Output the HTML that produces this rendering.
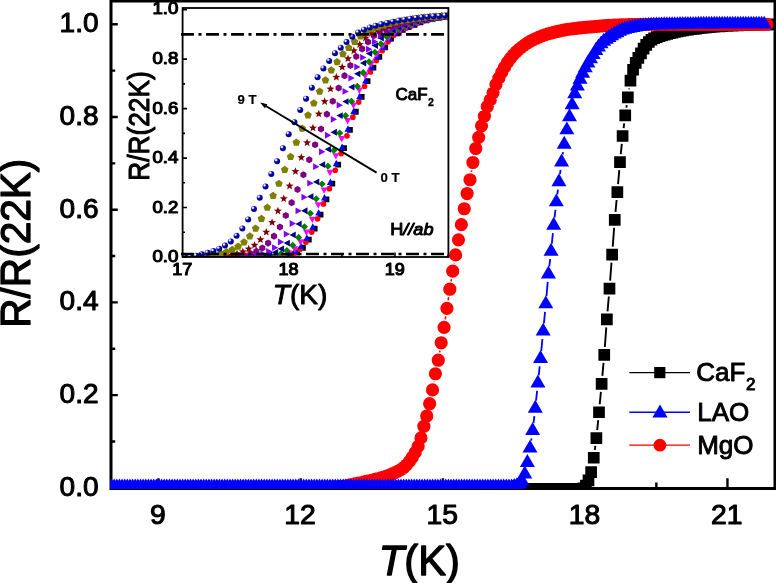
<!DOCTYPE html>
<html><head><meta charset="utf-8"><title>R/R(22K) vs T</title>
<style>html,body{margin:0;padding:0;background:#fff;}body{width:776px;height:583px;overflow:hidden;}svg{display:block;font-family:"Liberation Sans",sans-serif;will-change:transform;}text{fill:#000;stroke:#000;stroke-linejoin:round;}</style></head><body>
<svg width="776" height="583" viewBox="0 0 776 583">
<defs>
<clipPath id="cm"><rect x="110" y="0" width="667" height="488.9"/></clipPath>
<clipPath id="ci"><rect x="182.6" y="8.0" width="265.8" height="248.2"/></clipPath>
<radialGradient id="sph" cx="0.33" cy="0.30" r="0.7"><stop offset="0" stop-color="#ffffff"/><stop offset="0.14" stop-color="#f0f0ff"/><stop offset="0.42" stop-color="#0808b0"/><stop offset="1" stop-color="#000098"/></radialGradient>
</defs>
<rect width="776" height="583" fill="#fff"/>
<g stroke="#000" stroke-width="3" fill="none">
<path d="M111 0V490M109.5 488.4H776M775 0V490M109.5 1H776"/>
</g>
<path d="M111 487.8H117.8M111 441.45H115.2M111 395.1H117.8M111 348.75H115.2M111 302.4H117.8M111 256.05H115.2M111 209.7H117.8M111 163.35H115.2M111 117H117.8M111 70.65H115.2M111 24.3H117.8M158.42 488V478.3M229.55 488V482.6M300.68 488V478.3M371.81 488V482.6M442.94 488V478.3M514.07 488V482.6M585.2 488V478.3M656.33 488V482.6M727.46 488V478.3" stroke="#000" stroke-width="2.4" fill="none"/>
<g clip-path="url(#cm)">
<path d="M594.82 449.8L595.32 445.99M597.19 430.11L598.2 420.19M599.74 404.27L600.89 391.81M602.35 375.88L603.52 362.94M604.84 347L606.28 327.39M607.55 311.44L608.82 296.53M610.11 280.58L611.5 262.58M612.72 246.63L614.14 227.79M615.49 211.85L616.61 200.01M618.06 184.07L619.29 170.05M620.78 154.12L621.8 143.96M623.62 128.06L624.21 123.39M626.37 107.53L626.71 105.21M629.09 89.39L629.23 88.52" stroke="#000" stroke-width="1.9" fill="none"/>
<path d="M105.4 483.11h11.7v11.7h-11.7ZM108.02 483.11h11.7v11.7h-11.7ZM110.65 483.11h11.7v11.7h-11.7ZM113.27 483.11h11.7v11.7h-11.7ZM115.89 483.11h11.7v11.7h-11.7ZM118.51 483.11h11.7v11.7h-11.7ZM121.14 483.11h11.7v11.7h-11.7ZM123.76 483.11h11.7v11.7h-11.7ZM126.38 483.11h11.7v11.7h-11.7ZM129 483.11h11.7v11.7h-11.7ZM131.62 483.11h11.7v11.7h-11.7ZM134.25 483.11h11.7v11.7h-11.7ZM136.87 483.11h11.7v11.7h-11.7ZM139.49 483.11h11.7v11.7h-11.7ZM142.11 483.11h11.7v11.7h-11.7ZM144.74 483.11h11.7v11.7h-11.7ZM147.36 483.11h11.7v11.7h-11.7ZM149.98 483.11h11.7v11.7h-11.7ZM152.6 483.11h11.7v11.7h-11.7ZM155.23 483.11h11.7v11.7h-11.7ZM157.85 483.11h11.7v11.7h-11.7ZM160.47 483.11h11.7v11.7h-11.7ZM163.09 483.11h11.7v11.7h-11.7ZM165.71 483.11h11.7v11.7h-11.7ZM168.34 483.11h11.7v11.7h-11.7ZM170.96 483.11h11.7v11.7h-11.7ZM173.58 483.11h11.7v11.7h-11.7ZM176.2 483.11h11.7v11.7h-11.7ZM178.83 483.11h11.7v11.7h-11.7ZM181.45 483.11h11.7v11.7h-11.7ZM184.07 483.11h11.7v11.7h-11.7ZM186.69 483.11h11.7v11.7h-11.7ZM189.32 483.11h11.7v11.7h-11.7ZM191.94 483.11h11.7v11.7h-11.7ZM194.56 483.11h11.7v11.7h-11.7ZM197.18 483.11h11.7v11.7h-11.7ZM199.81 483.11h11.7v11.7h-11.7ZM202.43 483.11h11.7v11.7h-11.7ZM205.05 483.11h11.7v11.7h-11.7ZM207.67 483.11h11.7v11.7h-11.7ZM210.29 483.11h11.7v11.7h-11.7ZM212.92 483.11h11.7v11.7h-11.7ZM215.54 483.11h11.7v11.7h-11.7ZM218.16 483.11h11.7v11.7h-11.7ZM220.78 483.11h11.7v11.7h-11.7ZM223.41 483.11h11.7v11.7h-11.7ZM226.03 483.11h11.7v11.7h-11.7ZM228.65 483.11h11.7v11.7h-11.7ZM231.27 483.11h11.7v11.7h-11.7ZM233.9 483.11h11.7v11.7h-11.7ZM236.52 483.11h11.7v11.7h-11.7ZM239.14 483.11h11.7v11.7h-11.7ZM241.76 483.11h11.7v11.7h-11.7ZM244.38 483.11h11.7v11.7h-11.7ZM247.01 483.11h11.7v11.7h-11.7ZM249.63 483.11h11.7v11.7h-11.7ZM252.25 483.11h11.7v11.7h-11.7ZM254.87 483.11h11.7v11.7h-11.7ZM257.5 483.11h11.7v11.7h-11.7ZM260.12 483.11h11.7v11.7h-11.7ZM262.74 483.11h11.7v11.7h-11.7ZM265.36 483.11h11.7v11.7h-11.7ZM267.99 483.11h11.7v11.7h-11.7ZM270.61 483.11h11.7v11.7h-11.7ZM273.23 483.11h11.7v11.7h-11.7ZM275.85 483.11h11.7v11.7h-11.7ZM278.47 483.11h11.7v11.7h-11.7ZM281.1 483.11h11.7v11.7h-11.7ZM283.72 483.11h11.7v11.7h-11.7ZM286.34 483.11h11.7v11.7h-11.7ZM288.96 483.11h11.7v11.7h-11.7ZM291.59 483.11h11.7v11.7h-11.7ZM294.21 483.11h11.7v11.7h-11.7ZM296.83 483.11h11.7v11.7h-11.7ZM299.45 483.11h11.7v11.7h-11.7ZM302.08 483.11h11.7v11.7h-11.7ZM304.7 483.11h11.7v11.7h-11.7ZM307.32 483.11h11.7v11.7h-11.7ZM309.94 483.11h11.7v11.7h-11.7ZM312.57 483.11h11.7v11.7h-11.7ZM315.19 483.11h11.7v11.7h-11.7ZM317.81 483.11h11.7v11.7h-11.7ZM320.43 483.11h11.7v11.7h-11.7ZM323.05 483.11h11.7v11.7h-11.7ZM325.68 483.11h11.7v11.7h-11.7ZM328.3 483.11h11.7v11.7h-11.7ZM330.92 483.11h11.7v11.7h-11.7ZM333.54 483.11h11.7v11.7h-11.7ZM336.17 483.11h11.7v11.7h-11.7ZM338.79 483.11h11.7v11.7h-11.7ZM341.41 483.11h11.7v11.7h-11.7ZM344.03 483.11h11.7v11.7h-11.7ZM346.66 483.11h11.7v11.7h-11.7ZM349.28 483.11h11.7v11.7h-11.7ZM351.9 483.11h11.7v11.7h-11.7ZM354.52 483.11h11.7v11.7h-11.7ZM357.14 483.11h11.7v11.7h-11.7ZM359.77 483.11h11.7v11.7h-11.7ZM362.39 483.11h11.7v11.7h-11.7ZM365.01 483.11h11.7v11.7h-11.7ZM367.63 483.11h11.7v11.7h-11.7ZM370.26 483.11h11.7v11.7h-11.7ZM372.88 483.11h11.7v11.7h-11.7ZM375.5 483.11h11.7v11.7h-11.7ZM378.12 483.11h11.7v11.7h-11.7ZM380.75 483.11h11.7v11.7h-11.7ZM383.37 483.11h11.7v11.7h-11.7ZM385.99 483.11h11.7v11.7h-11.7ZM388.61 483.11h11.7v11.7h-11.7ZM391.23 483.11h11.7v11.7h-11.7ZM393.86 483.11h11.7v11.7h-11.7ZM396.48 483.11h11.7v11.7h-11.7ZM399.1 483.11h11.7v11.7h-11.7ZM401.72 483.11h11.7v11.7h-11.7ZM404.35 483.11h11.7v11.7h-11.7ZM406.97 483.11h11.7v11.7h-11.7ZM409.59 483.11h11.7v11.7h-11.7ZM412.21 483.11h11.7v11.7h-11.7ZM414.84 483.11h11.7v11.7h-11.7ZM417.46 483.11h11.7v11.7h-11.7ZM420.08 483.11h11.7v11.7h-11.7ZM422.7 483.11h11.7v11.7h-11.7ZM425.33 483.11h11.7v11.7h-11.7ZM427.95 483.11h11.7v11.7h-11.7ZM430.57 483.11h11.7v11.7h-11.7ZM433.19 483.11h11.7v11.7h-11.7ZM435.81 483.11h11.7v11.7h-11.7ZM438.44 483.11h11.7v11.7h-11.7ZM441.06 483.11h11.7v11.7h-11.7ZM443.68 483.11h11.7v11.7h-11.7ZM446.3 483.11h11.7v11.7h-11.7ZM448.93 483.11h11.7v11.7h-11.7ZM451.55 483.11h11.7v11.7h-11.7ZM454.17 483.11h11.7v11.7h-11.7ZM456.79 483.11h11.7v11.7h-11.7ZM459.42 483.11h11.7v11.7h-11.7ZM462.04 483.11h11.7v11.7h-11.7ZM464.66 483.11h11.7v11.7h-11.7ZM467.28 483.11h11.7v11.7h-11.7ZM469.9 483.11h11.7v11.7h-11.7ZM472.53 483.11h11.7v11.7h-11.7ZM475.15 483.11h11.7v11.7h-11.7ZM477.77 483.11h11.7v11.7h-11.7ZM480.39 483.11h11.7v11.7h-11.7ZM483.02 483.11h11.7v11.7h-11.7ZM485.64 483.11h11.7v11.7h-11.7ZM488.26 483.11h11.7v11.7h-11.7ZM490.88 483.11h11.7v11.7h-11.7ZM493.51 483.11h11.7v11.7h-11.7ZM496.13 483.11h11.7v11.7h-11.7ZM498.75 483.11h11.7v11.7h-11.7ZM501.37 483.11h11.7v11.7h-11.7ZM503.99 483.11h11.7v11.7h-11.7ZM506.62 483.11h11.7v11.7h-11.7ZM509.24 483.11h11.7v11.7h-11.7ZM511.86 483.11h11.7v11.7h-11.7ZM514.48 483.11h11.7v11.7h-11.7ZM517.11 483.11h11.7v11.7h-11.7ZM519.73 483.11h11.7v11.7h-11.7ZM522.35 483.11h11.7v11.7h-11.7ZM524.97 483.11h11.7v11.7h-11.7ZM527.6 483.11h11.7v11.7h-11.7ZM530.22 483.11h11.7v11.7h-11.7ZM532.84 483.11h11.7v11.7h-11.7ZM535.46 483.11h11.7v11.7h-11.7ZM538.09 483.11h11.7v11.7h-11.7ZM540.71 483.11h11.7v11.7h-11.7ZM543.33 483.11h11.7v11.7h-11.7ZM545.95 483.11h11.7v11.7h-11.7ZM548.57 483.11h11.7v11.7h-11.7ZM551.2 483.11h11.7v11.7h-11.7ZM553.82 483.11h11.7v11.7h-11.7ZM556.44 483.11h11.7v11.7h-11.7ZM559.06 483.11h11.7v11.7h-11.7ZM561.69 483.11h11.7v11.7h-11.7ZM564.31 483.11h11.7v11.7h-11.7ZM566.93 483.11h11.7v11.7h-11.7ZM569.55 483.11h11.7v11.7h-11.7ZM572.18 483.11h11.7v11.7h-11.7ZM574.8 483.1h11.7v11.7h-11.7ZM577.42 482.43h11.7v11.7h-11.7ZM580.04 479.8h11.7v11.7h-11.7ZM582.66 474.43h11.7v11.7h-11.7ZM585.29 466.27h11.7v11.7h-11.7ZM587.91 451.88h11.7v11.7h-11.7ZM590.53 432.21h11.7v11.7h-11.7ZM593.15 406.38h11.7v11.7h-11.7ZM595.78 377.99h11.7v11.7h-11.7ZM598.4 349.12h11.7v11.7h-11.7ZM601.02 313.56h11.7v11.7h-11.7ZM603.64 282.71h11.7v11.7h-11.7ZM606.27 248.76h11.7v11.7h-11.7ZM608.89 213.96h11.7v11.7h-11.7ZM611.51 186.19h11.7v11.7h-11.7ZM614.13 156.23h11.7v11.7h-11.7ZM616.75 130.15h11.7v11.7h-11.7ZM619.38 109.6h11.7v11.7h-11.7ZM622 91.45h11.7v11.7h-11.7ZM624.62 74.77h11.7v11.7h-11.7ZM627.24 63.92h11.7v11.7h-11.7ZM629.87 57.09h11.7v11.7h-11.7ZM632.49 51.94h11.7v11.7h-11.7ZM635.11 47.46h11.7v11.7h-11.7ZM637.73 42.72h11.7v11.7h-11.7ZM640.36 38.95h11.7v11.7h-11.7ZM642.98 36.14h11.7v11.7h-11.7ZM645.6 33.92h11.7v11.7h-11.7ZM648.22 32.4h11.7v11.7h-11.7ZM650.85 31.28h11.7v11.7h-11.7ZM653.47 30.37h11.7v11.7h-11.7ZM656.09 29.53h11.7v11.7h-11.7ZM658.71 28.77h11.7v11.7h-11.7ZM661.33 28.08h11.7v11.7h-11.7ZM663.96 27.42h11.7v11.7h-11.7ZM666.58 26.75h11.7v11.7h-11.7ZM669.2 26.11h11.7v11.7h-11.7ZM671.82 25.51h11.7v11.7h-11.7ZM674.45 24.97h11.7v11.7h-11.7ZM677.07 24.5h11.7v11.7h-11.7ZM679.69 24.08h11.7v11.7h-11.7ZM682.31 23.69h11.7v11.7h-11.7ZM684.94 23.33h11.7v11.7h-11.7ZM687.56 23h11.7v11.7h-11.7ZM690.18 22.7h11.7v11.7h-11.7ZM692.8 22.42h11.7v11.7h-11.7ZM695.42 22.16h11.7v11.7h-11.7ZM698.05 21.91h11.7v11.7h-11.7ZM700.67 21.66h11.7v11.7h-11.7ZM703.29 21.39h11.7v11.7h-11.7ZM705.91 21.12h11.7v11.7h-11.7ZM708.54 20.86h11.7v11.7h-11.7ZM711.16 20.63h11.7v11.7h-11.7ZM713.78 20.43h11.7v11.7h-11.7ZM716.4 20.25h11.7v11.7h-11.7ZM719.03 20.08h11.7v11.7h-11.7ZM721.65 19.93h11.7v11.7h-11.7ZM724.27 19.81h11.7v11.7h-11.7ZM726.89 19.7h11.7v11.7h-11.7ZM729.51 19.6h11.7v11.7h-11.7ZM732.14 19.5h11.7v11.7h-11.7ZM734.76 19.42h11.7v11.7h-11.7ZM737.38 19.33h11.7v11.7h-11.7ZM740 19.26h11.7v11.7h-11.7ZM742.63 19.18h11.7v11.7h-11.7ZM745.25 19.11h11.7v11.7h-11.7ZM747.87 19.04h11.7v11.7h-11.7ZM750.49 18.98h11.7v11.7h-11.7ZM753.12 18.91h11.7v11.7h-11.7ZM755.74 18.84h11.7v11.7h-11.7ZM758.36 18.78h11.7v11.7h-11.7ZM760.98 18.72h11.7v11.7h-11.7ZM763.61 18.66h11.7v11.7h-11.7ZM766.23 18.6h11.7v11.7h-11.7ZM768.85 18.55h11.7v11.7h-11.7Z" fill="#000"/>
<path d="M433.93 382.05L434.01 381.61M439.6 352.32L439.87 350.68M445.26 319.4L445.74 316.28M448.13 300.46L448.63 297.12M451.09 281.31L451.45 279.05M454.11 263.27L454.19 262.82M471.33 171.87L471.57 170.41" stroke="#f00" stroke-width="1.6" fill="none"/>
<path d="M105.9 487.8a6.6 6.6 0 1 0 13.2 0a6.6 6.6 0 1 0 -13.2 0ZM108.78 487.8a6.6 6.6 0 1 0 13.2 0a6.6 6.6 0 1 0 -13.2 0ZM111.66 487.8a6.6 6.6 0 1 0 13.2 0a6.6 6.6 0 1 0 -13.2 0ZM114.55 487.8a6.6 6.6 0 1 0 13.2 0a6.6 6.6 0 1 0 -13.2 0ZM117.43 487.8a6.6 6.6 0 1 0 13.2 0a6.6 6.6 0 1 0 -13.2 0ZM120.31 487.8a6.6 6.6 0 1 0 13.2 0a6.6 6.6 0 1 0 -13.2 0ZM123.2 487.8a6.6 6.6 0 1 0 13.2 0a6.6 6.6 0 1 0 -13.2 0ZM126.08 487.8a6.6 6.6 0 1 0 13.2 0a6.6 6.6 0 1 0 -13.2 0ZM128.96 487.8a6.6 6.6 0 1 0 13.2 0a6.6 6.6 0 1 0 -13.2 0ZM131.85 487.8a6.6 6.6 0 1 0 13.2 0a6.6 6.6 0 1 0 -13.2 0ZM134.73 487.8a6.6 6.6 0 1 0 13.2 0a6.6 6.6 0 1 0 -13.2 0ZM137.61 487.8a6.6 6.6 0 1 0 13.2 0a6.6 6.6 0 1 0 -13.2 0ZM140.5 487.8a6.6 6.6 0 1 0 13.2 0a6.6 6.6 0 1 0 -13.2 0ZM143.38 487.8a6.6 6.6 0 1 0 13.2 0a6.6 6.6 0 1 0 -13.2 0ZM146.26 487.8a6.6 6.6 0 1 0 13.2 0a6.6 6.6 0 1 0 -13.2 0ZM149.15 487.8a6.6 6.6 0 1 0 13.2 0a6.6 6.6 0 1 0 -13.2 0ZM152.03 487.8a6.6 6.6 0 1 0 13.2 0a6.6 6.6 0 1 0 -13.2 0ZM154.91 487.8a6.6 6.6 0 1 0 13.2 0a6.6 6.6 0 1 0 -13.2 0ZM157.79 487.8a6.6 6.6 0 1 0 13.2 0a6.6 6.6 0 1 0 -13.2 0ZM160.68 487.8a6.6 6.6 0 1 0 13.2 0a6.6 6.6 0 1 0 -13.2 0ZM163.56 487.8a6.6 6.6 0 1 0 13.2 0a6.6 6.6 0 1 0 -13.2 0ZM166.44 487.8a6.6 6.6 0 1 0 13.2 0a6.6 6.6 0 1 0 -13.2 0ZM169.33 487.8a6.6 6.6 0 1 0 13.2 0a6.6 6.6 0 1 0 -13.2 0ZM172.21 487.8a6.6 6.6 0 1 0 13.2 0a6.6 6.6 0 1 0 -13.2 0ZM175.09 487.8a6.6 6.6 0 1 0 13.2 0a6.6 6.6 0 1 0 -13.2 0ZM177.98 487.8a6.6 6.6 0 1 0 13.2 0a6.6 6.6 0 1 0 -13.2 0ZM180.86 487.8a6.6 6.6 0 1 0 13.2 0a6.6 6.6 0 1 0 -13.2 0ZM183.74 487.8a6.6 6.6 0 1 0 13.2 0a6.6 6.6 0 1 0 -13.2 0ZM186.63 487.8a6.6 6.6 0 1 0 13.2 0a6.6 6.6 0 1 0 -13.2 0ZM189.51 487.8a6.6 6.6 0 1 0 13.2 0a6.6 6.6 0 1 0 -13.2 0ZM192.39 487.8a6.6 6.6 0 1 0 13.2 0a6.6 6.6 0 1 0 -13.2 0ZM195.28 487.8a6.6 6.6 0 1 0 13.2 0a6.6 6.6 0 1 0 -13.2 0ZM198.16 487.8a6.6 6.6 0 1 0 13.2 0a6.6 6.6 0 1 0 -13.2 0ZM201.04 487.8a6.6 6.6 0 1 0 13.2 0a6.6 6.6 0 1 0 -13.2 0ZM203.93 487.8a6.6 6.6 0 1 0 13.2 0a6.6 6.6 0 1 0 -13.2 0ZM206.81 487.8a6.6 6.6 0 1 0 13.2 0a6.6 6.6 0 1 0 -13.2 0ZM209.69 487.8a6.6 6.6 0 1 0 13.2 0a6.6 6.6 0 1 0 -13.2 0ZM212.57 487.8a6.6 6.6 0 1 0 13.2 0a6.6 6.6 0 1 0 -13.2 0ZM215.46 487.8a6.6 6.6 0 1 0 13.2 0a6.6 6.6 0 1 0 -13.2 0ZM218.34 487.8a6.6 6.6 0 1 0 13.2 0a6.6 6.6 0 1 0 -13.2 0ZM221.22 487.8a6.6 6.6 0 1 0 13.2 0a6.6 6.6 0 1 0 -13.2 0ZM224.11 487.8a6.6 6.6 0 1 0 13.2 0a6.6 6.6 0 1 0 -13.2 0ZM226.99 487.8a6.6 6.6 0 1 0 13.2 0a6.6 6.6 0 1 0 -13.2 0ZM229.87 487.8a6.6 6.6 0 1 0 13.2 0a6.6 6.6 0 1 0 -13.2 0ZM232.76 487.8a6.6 6.6 0 1 0 13.2 0a6.6 6.6 0 1 0 -13.2 0ZM235.64 487.8a6.6 6.6 0 1 0 13.2 0a6.6 6.6 0 1 0 -13.2 0ZM238.52 487.8a6.6 6.6 0 1 0 13.2 0a6.6 6.6 0 1 0 -13.2 0ZM241.41 487.8a6.6 6.6 0 1 0 13.2 0a6.6 6.6 0 1 0 -13.2 0ZM244.29 487.8a6.6 6.6 0 1 0 13.2 0a6.6 6.6 0 1 0 -13.2 0ZM247.17 487.8a6.6 6.6 0 1 0 13.2 0a6.6 6.6 0 1 0 -13.2 0ZM250.06 487.8a6.6 6.6 0 1 0 13.2 0a6.6 6.6 0 1 0 -13.2 0ZM252.94 487.8a6.6 6.6 0 1 0 13.2 0a6.6 6.6 0 1 0 -13.2 0ZM255.82 487.8a6.6 6.6 0 1 0 13.2 0a6.6 6.6 0 1 0 -13.2 0ZM258.7 487.8a6.6 6.6 0 1 0 13.2 0a6.6 6.6 0 1 0 -13.2 0ZM261.59 487.8a6.6 6.6 0 1 0 13.2 0a6.6 6.6 0 1 0 -13.2 0ZM264.47 487.8a6.6 6.6 0 1 0 13.2 0a6.6 6.6 0 1 0 -13.2 0ZM267.35 487.8a6.6 6.6 0 1 0 13.2 0a6.6 6.6 0 1 0 -13.2 0ZM270.24 487.8a6.6 6.6 0 1 0 13.2 0a6.6 6.6 0 1 0 -13.2 0ZM273.12 487.8a6.6 6.6 0 1 0 13.2 0a6.6 6.6 0 1 0 -13.2 0ZM276 487.8a6.6 6.6 0 1 0 13.2 0a6.6 6.6 0 1 0 -13.2 0ZM278.89 487.8a6.6 6.6 0 1 0 13.2 0a6.6 6.6 0 1 0 -13.2 0ZM281.77 487.8a6.6 6.6 0 1 0 13.2 0a6.6 6.6 0 1 0 -13.2 0ZM284.65 487.8a6.6 6.6 0 1 0 13.2 0a6.6 6.6 0 1 0 -13.2 0ZM287.54 487.8a6.6 6.6 0 1 0 13.2 0a6.6 6.6 0 1 0 -13.2 0ZM290.42 487.8a6.6 6.6 0 1 0 13.2 0a6.6 6.6 0 1 0 -13.2 0ZM293.3 487.8a6.6 6.6 0 1 0 13.2 0a6.6 6.6 0 1 0 -13.2 0ZM296.19 487.8a6.6 6.6 0 1 0 13.2 0a6.6 6.6 0 1 0 -13.2 0ZM299.07 487.8a6.6 6.6 0 1 0 13.2 0a6.6 6.6 0 1 0 -13.2 0ZM301.95 487.8a6.6 6.6 0 1 0 13.2 0a6.6 6.6 0 1 0 -13.2 0ZM304.83 487.8a6.6 6.6 0 1 0 13.2 0a6.6 6.6 0 1 0 -13.2 0ZM307.72 487.8a6.6 6.6 0 1 0 13.2 0a6.6 6.6 0 1 0 -13.2 0ZM310.6 487.8a6.6 6.6 0 1 0 13.2 0a6.6 6.6 0 1 0 -13.2 0ZM313.48 487.8a6.6 6.6 0 1 0 13.2 0a6.6 6.6 0 1 0 -13.2 0ZM316.37 487.8a6.6 6.6 0 1 0 13.2 0a6.6 6.6 0 1 0 -13.2 0ZM319.25 487.73a6.6 6.6 0 1 0 13.2 0a6.6 6.6 0 1 0 -13.2 0ZM322.13 487.61a6.6 6.6 0 1 0 13.2 0a6.6 6.6 0 1 0 -13.2 0ZM325.02 487.43a6.6 6.6 0 1 0 13.2 0a6.6 6.6 0 1 0 -13.2 0ZM327.9 487.22a6.6 6.6 0 1 0 13.2 0a6.6 6.6 0 1 0 -13.2 0ZM330.78 486.98a6.6 6.6 0 1 0 13.2 0a6.6 6.6 0 1 0 -13.2 0ZM333.67 486.7a6.6 6.6 0 1 0 13.2 0a6.6 6.6 0 1 0 -13.2 0ZM336.55 486.27a6.6 6.6 0 1 0 13.2 0a6.6 6.6 0 1 0 -13.2 0ZM339.43 485.73a6.6 6.6 0 1 0 13.2 0a6.6 6.6 0 1 0 -13.2 0ZM342.32 485.13a6.6 6.6 0 1 0 13.2 0a6.6 6.6 0 1 0 -13.2 0ZM345.2 484.53a6.6 6.6 0 1 0 13.2 0a6.6 6.6 0 1 0 -13.2 0ZM348.08 483.96a6.6 6.6 0 1 0 13.2 0a6.6 6.6 0 1 0 -13.2 0ZM350.97 483.36a6.6 6.6 0 1 0 13.2 0a6.6 6.6 0 1 0 -13.2 0ZM353.85 482.74a6.6 6.6 0 1 0 13.2 0a6.6 6.6 0 1 0 -13.2 0ZM356.73 482.1a6.6 6.6 0 1 0 13.2 0a6.6 6.6 0 1 0 -13.2 0ZM359.61 481.45a6.6 6.6 0 1 0 13.2 0a6.6 6.6 0 1 0 -13.2 0ZM362.5 480.79a6.6 6.6 0 1 0 13.2 0a6.6 6.6 0 1 0 -13.2 0ZM365.38 480.14a6.6 6.6 0 1 0 13.2 0a6.6 6.6 0 1 0 -13.2 0ZM368.26 479.46a6.6 6.6 0 1 0 13.2 0a6.6 6.6 0 1 0 -13.2 0ZM371.15 478.75a6.6 6.6 0 1 0 13.2 0a6.6 6.6 0 1 0 -13.2 0ZM374.03 477.96a6.6 6.6 0 1 0 13.2 0a6.6 6.6 0 1 0 -13.2 0ZM376.91 477.09a6.6 6.6 0 1 0 13.2 0a6.6 6.6 0 1 0 -13.2 0ZM379.8 476.12a6.6 6.6 0 1 0 13.2 0a6.6 6.6 0 1 0 -13.2 0ZM382.68 475.05a6.6 6.6 0 1 0 13.2 0a6.6 6.6 0 1 0 -13.2 0ZM385.56 473.88a6.6 6.6 0 1 0 13.2 0a6.6 6.6 0 1 0 -13.2 0ZM388.45 472.6a6.6 6.6 0 1 0 13.2 0a6.6 6.6 0 1 0 -13.2 0ZM391.33 471.2a6.6 6.6 0 1 0 13.2 0a6.6 6.6 0 1 0 -13.2 0ZM394.21 469.56a6.6 6.6 0 1 0 13.2 0a6.6 6.6 0 1 0 -13.2 0ZM397.1 467.51a6.6 6.6 0 1 0 13.2 0a6.6 6.6 0 1 0 -13.2 0ZM399.98 464.73a6.6 6.6 0 1 0 13.2 0a6.6 6.6 0 1 0 -13.2 0ZM402.86 461.38a6.6 6.6 0 1 0 13.2 0a6.6 6.6 0 1 0 -13.2 0ZM405.74 457.28a6.6 6.6 0 1 0 13.2 0a6.6 6.6 0 1 0 -13.2 0ZM408.63 452.4a6.6 6.6 0 1 0 13.2 0a6.6 6.6 0 1 0 -13.2 0ZM411.51 446.38a6.6 6.6 0 1 0 13.2 0a6.6 6.6 0 1 0 -13.2 0ZM414.39 437.94a6.6 6.6 0 1 0 13.2 0a6.6 6.6 0 1 0 -13.2 0ZM417.28 426.25a6.6 6.6 0 1 0 13.2 0a6.6 6.6 0 1 0 -13.2 0ZM420.16 415.98a6.6 6.6 0 1 0 13.2 0a6.6 6.6 0 1 0 -13.2 0ZM423.04 403.71a6.6 6.6 0 1 0 13.2 0a6.6 6.6 0 1 0 -13.2 0ZM425.93 389.93a6.6 6.6 0 1 0 13.2 0a6.6 6.6 0 1 0 -13.2 0ZM428.81 373.73a6.6 6.6 0 1 0 13.2 0a6.6 6.6 0 1 0 -13.2 0ZM431.69 360.21a6.6 6.6 0 1 0 13.2 0a6.6 6.6 0 1 0 -13.2 0ZM434.58 342.78a6.6 6.6 0 1 0 13.2 0a6.6 6.6 0 1 0 -13.2 0ZM437.46 327.31a6.6 6.6 0 1 0 13.2 0a6.6 6.6 0 1 0 -13.2 0ZM440.34 308.37a6.6 6.6 0 1 0 13.2 0a6.6 6.6 0 1 0 -13.2 0ZM443.23 289.21a6.6 6.6 0 1 0 13.2 0a6.6 6.6 0 1 0 -13.2 0ZM446.11 271.15a6.6 6.6 0 1 0 13.2 0a6.6 6.6 0 1 0 -13.2 0ZM448.99 254.94a6.6 6.6 0 1 0 13.2 0a6.6 6.6 0 1 0 -13.2 0ZM451.87 239.81a6.6 6.6 0 1 0 13.2 0a6.6 6.6 0 1 0 -13.2 0ZM454.76 224.7a6.6 6.6 0 1 0 13.2 0a6.6 6.6 0 1 0 -13.2 0ZM457.64 208.76a6.6 6.6 0 1 0 13.2 0a6.6 6.6 0 1 0 -13.2 0ZM460.52 193.54a6.6 6.6 0 1 0 13.2 0a6.6 6.6 0 1 0 -13.2 0ZM463.41 179.76a6.6 6.6 0 1 0 13.2 0a6.6 6.6 0 1 0 -13.2 0ZM466.29 162.52a6.6 6.6 0 1 0 13.2 0a6.6 6.6 0 1 0 -13.2 0ZM469.17 148.49a6.6 6.6 0 1 0 13.2 0a6.6 6.6 0 1 0 -13.2 0ZM472.06 137.33a6.6 6.6 0 1 0 13.2 0a6.6 6.6 0 1 0 -13.2 0ZM474.94 125.82a6.6 6.6 0 1 0 13.2 0a6.6 6.6 0 1 0 -13.2 0ZM477.82 116.09a6.6 6.6 0 1 0 13.2 0a6.6 6.6 0 1 0 -13.2 0ZM480.71 106.52a6.6 6.6 0 1 0 13.2 0a6.6 6.6 0 1 0 -13.2 0ZM483.59 99.89a6.6 6.6 0 1 0 13.2 0a6.6 6.6 0 1 0 -13.2 0ZM486.47 92.8a6.6 6.6 0 1 0 13.2 0a6.6 6.6 0 1 0 -13.2 0ZM489.36 84.52a6.6 6.6 0 1 0 13.2 0a6.6 6.6 0 1 0 -13.2 0ZM492.24 78.14a6.6 6.6 0 1 0 13.2 0a6.6 6.6 0 1 0 -13.2 0ZM495.12 72.39a6.6 6.6 0 1 0 13.2 0a6.6 6.6 0 1 0 -13.2 0ZM498 67.16a6.6 6.6 0 1 0 13.2 0a6.6 6.6 0 1 0 -13.2 0ZM500.89 62.42a6.6 6.6 0 1 0 13.2 0a6.6 6.6 0 1 0 -13.2 0ZM503.77 58.37a6.6 6.6 0 1 0 13.2 0a6.6 6.6 0 1 0 -13.2 0ZM506.65 54.85a6.6 6.6 0 1 0 13.2 0a6.6 6.6 0 1 0 -13.2 0ZM509.54 51.92a6.6 6.6 0 1 0 13.2 0a6.6 6.6 0 1 0 -13.2 0ZM512.42 49.39a6.6 6.6 0 1 0 13.2 0a6.6 6.6 0 1 0 -13.2 0ZM515.3 47.08a6.6 6.6 0 1 0 13.2 0a6.6 6.6 0 1 0 -13.2 0ZM518.19 44.88a6.6 6.6 0 1 0 13.2 0a6.6 6.6 0 1 0 -13.2 0ZM521.07 42.88a6.6 6.6 0 1 0 13.2 0a6.6 6.6 0 1 0 -13.2 0ZM523.95 41.17a6.6 6.6 0 1 0 13.2 0a6.6 6.6 0 1 0 -13.2 0ZM526.84 39.66a6.6 6.6 0 1 0 13.2 0a6.6 6.6 0 1 0 -13.2 0ZM529.72 38.29a6.6 6.6 0 1 0 13.2 0a6.6 6.6 0 1 0 -13.2 0ZM532.6 37.04a6.6 6.6 0 1 0 13.2 0a6.6 6.6 0 1 0 -13.2 0ZM535.49 35.86a6.6 6.6 0 1 0 13.2 0a6.6 6.6 0 1 0 -13.2 0ZM538.37 34.79a6.6 6.6 0 1 0 13.2 0a6.6 6.6 0 1 0 -13.2 0ZM541.25 33.85a6.6 6.6 0 1 0 13.2 0a6.6 6.6 0 1 0 -13.2 0ZM544.14 33.04a6.6 6.6 0 1 0 13.2 0a6.6 6.6 0 1 0 -13.2 0ZM547.02 32.31a6.6 6.6 0 1 0 13.2 0a6.6 6.6 0 1 0 -13.2 0ZM549.9 31.65a6.6 6.6 0 1 0 13.2 0a6.6 6.6 0 1 0 -13.2 0ZM552.78 31.03a6.6 6.6 0 1 0 13.2 0a6.6 6.6 0 1 0 -13.2 0ZM555.67 30.45a6.6 6.6 0 1 0 13.2 0a6.6 6.6 0 1 0 -13.2 0ZM558.55 29.91a6.6 6.6 0 1 0 13.2 0a6.6 6.6 0 1 0 -13.2 0ZM561.43 29.43a6.6 6.6 0 1 0 13.2 0a6.6 6.6 0 1 0 -13.2 0ZM564.32 29.02a6.6 6.6 0 1 0 13.2 0a6.6 6.6 0 1 0 -13.2 0ZM567.2 28.64a6.6 6.6 0 1 0 13.2 0a6.6 6.6 0 1 0 -13.2 0ZM570.08 28.29a6.6 6.6 0 1 0 13.2 0a6.6 6.6 0 1 0 -13.2 0ZM572.97 27.97a6.6 6.6 0 1 0 13.2 0a6.6 6.6 0 1 0 -13.2 0ZM575.85 27.66a6.6 6.6 0 1 0 13.2 0a6.6 6.6 0 1 0 -13.2 0ZM578.73 27.38a6.6 6.6 0 1 0 13.2 0a6.6 6.6 0 1 0 -13.2 0ZM581.62 27.11a6.6 6.6 0 1 0 13.2 0a6.6 6.6 0 1 0 -13.2 0ZM584.5 26.85a6.6 6.6 0 1 0 13.2 0a6.6 6.6 0 1 0 -13.2 0ZM587.38 26.61a6.6 6.6 0 1 0 13.2 0a6.6 6.6 0 1 0 -13.2 0ZM590.27 26.37a6.6 6.6 0 1 0 13.2 0a6.6 6.6 0 1 0 -13.2 0ZM593.15 26.13a6.6 6.6 0 1 0 13.2 0a6.6 6.6 0 1 0 -13.2 0ZM596.03 25.9a6.6 6.6 0 1 0 13.2 0a6.6 6.6 0 1 0 -13.2 0ZM598.91 25.68a6.6 6.6 0 1 0 13.2 0a6.6 6.6 0 1 0 -13.2 0ZM601.8 25.47a6.6 6.6 0 1 0 13.2 0a6.6 6.6 0 1 0 -13.2 0ZM604.68 25.29a6.6 6.6 0 1 0 13.2 0a6.6 6.6 0 1 0 -13.2 0ZM607.56 25.14a6.6 6.6 0 1 0 13.2 0a6.6 6.6 0 1 0 -13.2 0ZM610.45 25.02a6.6 6.6 0 1 0 13.2 0a6.6 6.6 0 1 0 -13.2 0ZM613.33 24.94a6.6 6.6 0 1 0 13.2 0a6.6 6.6 0 1 0 -13.2 0ZM616.21 24.85a6.6 6.6 0 1 0 13.2 0a6.6 6.6 0 1 0 -13.2 0ZM619.1 24.77a6.6 6.6 0 1 0 13.2 0a6.6 6.6 0 1 0 -13.2 0ZM621.98 24.7a6.6 6.6 0 1 0 13.2 0a6.6 6.6 0 1 0 -13.2 0ZM624.86 24.63a6.6 6.6 0 1 0 13.2 0a6.6 6.6 0 1 0 -13.2 0ZM627.75 24.56a6.6 6.6 0 1 0 13.2 0a6.6 6.6 0 1 0 -13.2 0ZM630.63 24.5a6.6 6.6 0 1 0 13.2 0a6.6 6.6 0 1 0 -13.2 0ZM633.51 24.45a6.6 6.6 0 1 0 13.2 0a6.6 6.6 0 1 0 -13.2 0ZM636.4 24.4a6.6 6.6 0 1 0 13.2 0a6.6 6.6 0 1 0 -13.2 0ZM639.28 24.36a6.6 6.6 0 1 0 13.2 0a6.6 6.6 0 1 0 -13.2 0ZM642.16 24.33a6.6 6.6 0 1 0 13.2 0a6.6 6.6 0 1 0 -13.2 0ZM645.04 24.31a6.6 6.6 0 1 0 13.2 0a6.6 6.6 0 1 0 -13.2 0ZM647.93 24.3a6.6 6.6 0 1 0 13.2 0a6.6 6.6 0 1 0 -13.2 0ZM650.81 24.3a6.6 6.6 0 1 0 13.2 0a6.6 6.6 0 1 0 -13.2 0ZM653.69 24.3a6.6 6.6 0 1 0 13.2 0a6.6 6.6 0 1 0 -13.2 0ZM656.58 24.3a6.6 6.6 0 1 0 13.2 0a6.6 6.6 0 1 0 -13.2 0ZM659.46 24.3a6.6 6.6 0 1 0 13.2 0a6.6 6.6 0 1 0 -13.2 0ZM662.34 24.3a6.6 6.6 0 1 0 13.2 0a6.6 6.6 0 1 0 -13.2 0ZM665.23 24.3a6.6 6.6 0 1 0 13.2 0a6.6 6.6 0 1 0 -13.2 0ZM668.11 24.3a6.6 6.6 0 1 0 13.2 0a6.6 6.6 0 1 0 -13.2 0ZM670.99 24.3a6.6 6.6 0 1 0 13.2 0a6.6 6.6 0 1 0 -13.2 0ZM673.88 24.3a6.6 6.6 0 1 0 13.2 0a6.6 6.6 0 1 0 -13.2 0ZM676.76 24.3a6.6 6.6 0 1 0 13.2 0a6.6 6.6 0 1 0 -13.2 0ZM679.64 24.3a6.6 6.6 0 1 0 13.2 0a6.6 6.6 0 1 0 -13.2 0ZM682.53 24.3a6.6 6.6 0 1 0 13.2 0a6.6 6.6 0 1 0 -13.2 0ZM685.41 24.3a6.6 6.6 0 1 0 13.2 0a6.6 6.6 0 1 0 -13.2 0ZM688.29 24.3a6.6 6.6 0 1 0 13.2 0a6.6 6.6 0 1 0 -13.2 0ZM691.18 24.3a6.6 6.6 0 1 0 13.2 0a6.6 6.6 0 1 0 -13.2 0ZM694.06 24.3a6.6 6.6 0 1 0 13.2 0a6.6 6.6 0 1 0 -13.2 0ZM696.94 24.3a6.6 6.6 0 1 0 13.2 0a6.6 6.6 0 1 0 -13.2 0ZM699.82 24.3a6.6 6.6 0 1 0 13.2 0a6.6 6.6 0 1 0 -13.2 0ZM702.71 24.3a6.6 6.6 0 1 0 13.2 0a6.6 6.6 0 1 0 -13.2 0ZM705.59 24.3a6.6 6.6 0 1 0 13.2 0a6.6 6.6 0 1 0 -13.2 0ZM708.47 24.3a6.6 6.6 0 1 0 13.2 0a6.6 6.6 0 1 0 -13.2 0ZM711.36 24.3a6.6 6.6 0 1 0 13.2 0a6.6 6.6 0 1 0 -13.2 0ZM714.24 24.3a6.6 6.6 0 1 0 13.2 0a6.6 6.6 0 1 0 -13.2 0ZM717.12 24.3a6.6 6.6 0 1 0 13.2 0a6.6 6.6 0 1 0 -13.2 0ZM720.01 24.3a6.6 6.6 0 1 0 13.2 0a6.6 6.6 0 1 0 -13.2 0ZM722.89 24.3a6.6 6.6 0 1 0 13.2 0a6.6 6.6 0 1 0 -13.2 0ZM725.77 24.3a6.6 6.6 0 1 0 13.2 0a6.6 6.6 0 1 0 -13.2 0ZM728.66 24.3a6.6 6.6 0 1 0 13.2 0a6.6 6.6 0 1 0 -13.2 0ZM731.54 24.3a6.6 6.6 0 1 0 13.2 0a6.6 6.6 0 1 0 -13.2 0ZM734.42 24.3a6.6 6.6 0 1 0 13.2 0a6.6 6.6 0 1 0 -13.2 0ZM737.31 24.3a6.6 6.6 0 1 0 13.2 0a6.6 6.6 0 1 0 -13.2 0ZM740.19 24.3a6.6 6.6 0 1 0 13.2 0a6.6 6.6 0 1 0 -13.2 0ZM743.07 24.3a6.6 6.6 0 1 0 13.2 0a6.6 6.6 0 1 0 -13.2 0ZM745.95 24.3a6.6 6.6 0 1 0 13.2 0a6.6 6.6 0 1 0 -13.2 0ZM748.84 24.3a6.6 6.6 0 1 0 13.2 0a6.6 6.6 0 1 0 -13.2 0ZM751.72 24.3a6.6 6.6 0 1 0 13.2 0a6.6 6.6 0 1 0 -13.2 0ZM754.6 24.3a6.6 6.6 0 1 0 13.2 0a6.6 6.6 0 1 0 -13.2 0ZM757.49 24.3a6.6 6.6 0 1 0 13.2 0a6.6 6.6 0 1 0 -13.2 0ZM760.37 24.3a6.6 6.6 0 1 0 13.2 0a6.6 6.6 0 1 0 -13.2 0Z" fill="#f00"/>
<path d="M531.16 440.58L531.48 438.42M533.55 422.96L534.35 416.2M536.07 400.7L537.09 390.85M538.74 375.34L539.69 366.47M541.27 350.95L542.42 339M543.91 323.48L545.04 311.79M546.48 296.25L547.74 281.92M549.32 266.4L550.16 259.18M551.84 243.68L552.9 233.21M554.56 217.7L555.45 209.78M557.33 194.3L557.94 189.67M559.98 174.2L560.56 169.9M562.73 154.45L563.07 152.17" stroke="#00f" stroke-width="1.8" fill="none"/>
<path d="M111.55 478.5L119.05 491.4L104.05 491.4ZM114.18 478.5L121.68 491.4L106.68 491.4ZM116.81 478.5L124.31 491.4L109.31 491.4ZM119.44 478.5L126.94 491.4L111.94 491.4ZM122.07 478.5L129.57 491.4L114.57 491.4ZM124.7 478.5L132.2 491.4L117.2 491.4ZM127.34 478.5L134.84 491.4L119.84 491.4ZM129.97 478.5L137.47 491.4L122.47 491.4ZM132.6 478.5L140.1 491.4L125.1 491.4ZM135.23 478.5L142.73 491.4L127.73 491.4ZM137.86 478.5L145.36 491.4L130.36 491.4ZM140.5 478.5L148 491.4L133 491.4ZM143.13 478.5L150.63 491.4L135.63 491.4ZM145.76 478.5L153.26 491.4L138.26 491.4ZM148.39 478.5L155.89 491.4L140.89 491.4ZM151.02 478.5L158.52 491.4L143.52 491.4ZM153.65 478.5L161.15 491.4L146.15 491.4ZM156.29 478.5L163.79 491.4L148.79 491.4ZM158.92 478.5L166.42 491.4L151.42 491.4ZM161.55 478.5L169.05 491.4L154.05 491.4ZM164.18 478.5L171.68 491.4L156.68 491.4ZM166.81 478.5L174.31 491.4L159.31 491.4ZM169.45 478.5L176.95 491.4L161.95 491.4ZM172.08 478.5L179.58 491.4L164.58 491.4ZM174.71 478.5L182.21 491.4L167.21 491.4ZM177.34 478.5L184.84 491.4L169.84 491.4ZM179.97 478.5L187.47 491.4L172.47 491.4ZM182.6 478.5L190.1 491.4L175.1 491.4ZM185.24 478.5L192.74 491.4L177.74 491.4ZM187.87 478.5L195.37 491.4L180.37 491.4ZM190.5 478.5L198 491.4L183 491.4ZM193.13 478.5L200.63 491.4L185.63 491.4ZM195.76 478.5L203.26 491.4L188.26 491.4ZM198.4 478.5L205.9 491.4L190.9 491.4ZM201.03 478.5L208.53 491.4L193.53 491.4ZM203.66 478.5L211.16 491.4L196.16 491.4ZM206.29 478.5L213.79 491.4L198.79 491.4ZM208.92 478.5L216.42 491.4L201.42 491.4ZM211.55 478.5L219.05 491.4L204.05 491.4ZM214.19 478.5L221.69 491.4L206.69 491.4ZM216.82 478.5L224.32 491.4L209.32 491.4ZM219.45 478.5L226.95 491.4L211.95 491.4ZM222.08 478.5L229.58 491.4L214.58 491.4ZM224.71 478.5L232.21 491.4L217.21 491.4ZM227.34 478.5L234.84 491.4L219.84 491.4ZM229.98 478.5L237.48 491.4L222.48 491.4ZM232.61 478.5L240.11 491.4L225.11 491.4ZM235.24 478.5L242.74 491.4L227.74 491.4ZM237.87 478.5L245.37 491.4L230.37 491.4ZM240.5 478.5L248 491.4L233 491.4ZM243.14 478.5L250.64 491.4L235.64 491.4ZM245.77 478.5L253.27 491.4L238.27 491.4ZM248.4 478.5L255.9 491.4L240.9 491.4ZM251.03 478.5L258.53 491.4L243.53 491.4ZM253.66 478.5L261.16 491.4L246.16 491.4ZM256.29 478.5L263.79 491.4L248.79 491.4ZM258.93 478.5L266.43 491.4L251.43 491.4ZM261.56 478.5L269.06 491.4L254.06 491.4ZM264.19 478.5L271.69 491.4L256.69 491.4ZM266.82 478.5L274.32 491.4L259.32 491.4ZM269.45 478.5L276.95 491.4L261.95 491.4ZM272.09 478.5L279.59 491.4L264.59 491.4ZM274.72 478.5L282.22 491.4L267.22 491.4ZM277.35 478.5L284.85 491.4L269.85 491.4ZM279.98 478.5L287.48 491.4L272.48 491.4ZM282.61 478.5L290.11 491.4L275.11 491.4ZM285.24 478.5L292.74 491.4L277.74 491.4ZM287.88 478.5L295.38 491.4L280.38 491.4ZM290.51 478.5L298.01 491.4L283.01 491.4ZM293.14 478.5L300.64 491.4L285.64 491.4ZM295.77 478.5L303.27 491.4L288.27 491.4ZM298.4 478.5L305.9 491.4L290.9 491.4ZM301.04 478.5L308.54 491.4L293.54 491.4ZM303.67 478.5L311.17 491.4L296.17 491.4ZM306.3 478.5L313.8 491.4L298.8 491.4ZM308.93 478.5L316.43 491.4L301.43 491.4ZM311.56 478.5L319.06 491.4L304.06 491.4ZM314.19 478.5L321.69 491.4L306.69 491.4ZM316.83 478.5L324.33 491.4L309.33 491.4ZM319.46 478.5L326.96 491.4L311.96 491.4ZM322.09 478.5L329.59 491.4L314.59 491.4ZM324.72 478.5L332.22 491.4L317.22 491.4ZM327.35 478.5L334.85 491.4L319.85 491.4ZM329.99 478.5L337.49 491.4L322.49 491.4ZM332.62 478.5L340.12 491.4L325.12 491.4ZM335.25 478.5L342.75 491.4L327.75 491.4ZM337.88 478.5L345.38 491.4L330.38 491.4ZM340.51 478.5L348.01 491.4L333.01 491.4ZM343.14 478.5L350.64 491.4L335.64 491.4ZM345.78 478.5L353.28 491.4L338.28 491.4ZM348.41 478.5L355.91 491.4L340.91 491.4ZM351.04 478.5L358.54 491.4L343.54 491.4ZM353.67 478.5L361.17 491.4L346.17 491.4ZM356.3 478.5L363.8 491.4L348.8 491.4ZM358.94 478.5L366.44 491.4L351.44 491.4ZM361.57 478.5L369.07 491.4L354.07 491.4ZM364.2 478.5L371.7 491.4L356.7 491.4ZM366.83 478.5L374.33 491.4L359.33 491.4ZM369.46 478.5L376.96 491.4L361.96 491.4ZM372.09 478.5L379.59 491.4L364.59 491.4ZM374.73 478.5L382.23 491.4L367.23 491.4ZM377.36 478.5L384.86 491.4L369.86 491.4ZM379.99 478.5L387.49 491.4L372.49 491.4ZM382.62 478.5L390.12 491.4L375.12 491.4ZM385.25 478.5L392.75 491.4L377.75 491.4ZM387.89 478.5L395.39 491.4L380.39 491.4ZM390.52 478.5L398.02 491.4L383.02 491.4ZM393.15 478.5L400.65 491.4L385.65 491.4ZM395.78 478.5L403.28 491.4L388.28 491.4ZM398.41 478.5L405.91 491.4L390.91 491.4ZM401.04 478.5L408.54 491.4L393.54 491.4ZM403.68 478.5L411.18 491.4L396.18 491.4ZM406.31 478.5L413.81 491.4L398.81 491.4ZM408.94 478.5L416.44 491.4L401.44 491.4ZM411.57 478.5L419.07 491.4L404.07 491.4ZM414.2 478.5L421.7 491.4L406.7 491.4ZM416.84 478.5L424.34 491.4L409.34 491.4ZM419.47 478.5L426.97 491.4L411.97 491.4ZM422.1 478.5L429.6 491.4L414.6 491.4ZM424.73 478.5L432.23 491.4L417.23 491.4ZM427.36 478.5L434.86 491.4L419.86 491.4ZM429.99 478.5L437.49 491.4L422.49 491.4ZM432.63 478.5L440.13 491.4L425.13 491.4ZM435.26 478.5L442.76 491.4L427.76 491.4ZM437.89 478.5L445.39 491.4L430.39 491.4ZM440.52 478.5L448.02 491.4L433.02 491.4ZM443.15 478.5L450.65 491.4L435.65 491.4ZM445.79 478.5L453.29 491.4L438.29 491.4ZM448.42 478.5L455.92 491.4L440.92 491.4ZM451.05 478.5L458.55 491.4L443.55 491.4ZM453.68 478.5L461.18 491.4L446.18 491.4ZM456.31 478.5L463.81 491.4L448.81 491.4ZM458.94 478.5L466.44 491.4L451.44 491.4ZM461.58 478.5L469.08 491.4L454.08 491.4ZM464.21 478.5L471.71 491.4L456.71 491.4ZM466.84 478.5L474.34 491.4L459.34 491.4ZM469.47 478.5L476.97 491.4L461.97 491.4ZM472.1 478.5L479.6 491.4L464.6 491.4ZM474.74 478.5L482.24 491.4L467.24 491.4ZM477.37 478.5L484.87 491.4L469.87 491.4ZM480 478.5L487.5 491.4L472.5 491.4ZM482.63 478.5L490.13 491.4L475.13 491.4ZM485.26 478.5L492.76 491.4L477.76 491.4ZM487.89 478.5L495.39 491.4L480.39 491.4ZM490.53 478.5L498.03 491.4L483.03 491.4ZM493.16 478.5L500.66 491.4L485.66 491.4ZM495.79 478.5L503.29 491.4L488.29 491.4ZM498.42 478.5L505.92 491.4L490.92 491.4ZM501.05 478.5L508.55 491.4L493.55 491.4ZM503.69 478.5L511.19 491.4L496.19 491.4ZM506.32 478.5L513.82 491.4L498.82 491.4ZM508.95 478.5L516.45 491.4L501.45 491.4ZM511.58 478.5L519.08 491.4L504.08 491.4ZM514.21 478.09L521.71 490.99L506.71 490.99ZM516.84 477.2L524.34 490.1L509.34 490.1ZM519.48 475.71L526.98 488.61L511.98 488.61ZM522.11 472.75L529.61 485.65L514.61 485.65ZM524.74 465.6L532.24 478.5L517.24 478.5ZM527.37 454.07L534.87 466.97L519.87 466.97ZM530 439.69L537.5 452.59L522.5 452.59ZM532.63 422.1L540.13 435L525.13 435ZM535.27 399.85L542.77 412.75L527.77 412.75ZM537.9 374.49L545.4 387.39L530.4 387.39ZM540.53 350.12L548.03 363.02L533.03 363.02ZM543.16 322.64L550.66 335.54L535.66 335.54ZM545.79 295.42L553.29 308.32L538.29 308.32ZM548.43 265.55L555.93 278.45L540.93 278.45ZM551.06 242.84L558.56 255.74L543.56 255.74ZM553.69 216.85L561.19 229.75L546.19 229.75ZM556.32 193.43L563.82 206.33L548.82 206.33ZM558.95 173.33L566.45 186.23L551.45 186.23ZM561.58 153.57L569.08 166.47L554.08 166.47ZM564.22 135.86L571.72 148.76L556.72 148.76ZM566.85 121.44L574.35 134.34L559.35 134.34ZM569.48 108.26L576.98 121.16L561.98 121.16ZM572.11 96.24L579.61 109.14L564.61 109.14ZM574.74 85.31L582.24 98.21L567.24 98.21ZM577.38 77.63L584.88 90.53L569.88 90.53ZM580.01 70.76L587.51 83.66L572.51 83.66ZM582.64 64.77L590.14 77.67L575.14 77.67ZM585.27 59.41L592.77 72.31L577.77 72.31ZM587.9 54.53L595.4 67.43L580.4 67.43ZM590.53 50.41L598.03 63.31L583.03 63.31ZM593.17 46.16L600.67 59.06L585.67 59.06ZM595.8 42L603.3 54.9L588.3 54.9ZM598.43 38.49L605.93 51.39L590.93 51.39ZM601.06 35.43L608.56 48.33L593.56 48.33ZM603.69 32.85L611.19 45.75L596.19 45.75ZM606.33 30.77L613.83 43.67L598.83 43.67ZM608.96 28.99L616.46 41.89L601.46 41.89ZM611.59 27.29L619.09 40.19L604.09 40.19ZM614.22 25.69L621.72 38.59L606.72 38.59ZM616.85 24.23L624.35 37.13L609.35 37.13ZM619.48 22.81L626.98 35.71L611.98 35.71ZM622.12 21.59L629.62 34.49L614.62 34.49ZM624.75 20.77L632.25 33.67L617.25 33.67ZM627.38 20.17L634.88 33.07L619.88 33.07ZM630.01 19.62L637.51 32.52L622.51 32.52ZM632.64 19.08L640.14 31.98L625.14 31.98ZM635.28 18.55L642.78 31.45L627.78 31.45ZM637.91 18.07L645.41 30.97L630.41 30.97ZM640.54 17.67L648.04 30.57L633.04 30.57ZM643.17 17.39L650.67 30.29L635.67 30.29ZM645.8 17.17L653.3 30.07L638.3 30.07ZM648.43 16.97L655.93 29.87L640.93 29.87ZM651.07 16.82L658.57 29.72L643.57 29.72ZM653.7 16.69L661.2 29.59L646.2 29.59ZM656.33 16.59L663.83 29.49L648.83 29.49ZM658.96 16.51L666.46 29.41L651.46 29.41ZM661.59 16.43L669.09 29.33L654.09 29.33ZM664.23 16.37L671.73 29.27L656.73 29.27ZM666.86 16.31L674.36 29.21L659.36 29.21ZM669.49 16.26L676.99 29.16L661.99 29.16ZM672.12 16.21L679.62 29.11L664.62 29.11ZM674.75 16.17L682.25 29.07L667.25 29.07ZM677.38 16.13L684.88 29.03L669.88 29.03ZM680.02 16.09L687.52 28.99L672.52 28.99ZM682.65 16.06L690.15 28.96L675.15 28.96ZM685.28 16.02L692.78 28.92L677.78 28.92ZM687.91 15.98L695.41 28.88L680.41 28.88ZM690.54 15.95L698.04 28.85L683.04 28.85ZM693.18 15.91L700.68 28.81L685.68 28.81ZM695.81 15.88L703.31 28.78L688.31 28.78ZM698.44 15.85L705.94 28.75L690.94 28.75ZM701.07 15.82L708.57 28.72L693.57 28.72ZM703.7 15.8L711.2 28.7L696.2 28.7ZM706.33 15.77L713.83 28.67L698.83 28.67ZM708.97 15.75L716.47 28.65L701.47 28.65ZM711.6 15.74L719.1 28.64L704.1 28.64ZM714.23 15.72L721.73 28.62L706.73 28.62ZM716.86 15.71L724.36 28.61L709.36 28.61ZM719.49 15.7L726.99 28.6L711.99 28.6ZM722.13 15.7L729.63 28.6L714.63 28.6ZM724.76 15.7L732.26 28.6L717.26 28.6ZM727.39 15.7L734.89 28.6L719.89 28.6ZM730.02 15.7L737.52 28.6L722.52 28.6ZM732.65 15.7L740.15 28.6L725.15 28.6ZM735.28 15.7L742.78 28.6L727.78 28.6ZM737.92 15.7L745.42 28.6L730.42 28.6ZM740.55 15.7L748.05 28.6L733.05 28.6ZM743.18 15.7L750.68 28.6L735.68 28.6ZM745.81 15.7L753.31 28.6L738.31 28.6ZM748.44 15.7L755.94 28.6L740.94 28.6ZM751.08 15.7L758.58 28.6L743.58 28.6ZM753.71 15.7L761.21 28.6L746.21 28.6ZM756.34 15.7L763.84 28.6L748.84 28.6ZM758.97 15.7L766.47 28.6L751.47 28.6ZM761.6 15.7L769.1 28.6L754.1 28.6ZM764.23 15.7L771.73 28.6L756.73 28.6Z" fill="#00f"/>
</g>
<g font-size="27.5" stroke-width="1.05" text-anchor="end">
<text transform="translate(98.6 495.7) scale(1.02 1)">0.0</text>
<text transform="translate(98.6 403) scale(1.02 1)">0.2</text>
<text transform="translate(98.6 310.3) scale(1.02 1)">0.4</text>
<text transform="translate(98.6 217.6) scale(1.02 1)">0.6</text>
<text transform="translate(98.6 124.9) scale(1.02 1)">0.8</text>
<text transform="translate(98.6 32.2) scale(1.02 1)">1.0</text>
</g>
<g font-size="27.5" stroke-width="1.05" text-anchor="middle">
<text transform="translate(157.82 523.8) scale(1.03 1)">9</text>
<text transform="translate(300.08 523.8) scale(1.03 1)">12</text>
<text transform="translate(442.34 523.8) scale(1.03 1)">15</text>
<text transform="translate(584.6 523.8) scale(1.03 1)">18</text>
<text transform="translate(726.86 523.8) scale(1.03 1)">21</text>
</g>
<text x="419.3" y="574.7" font-size="41.6" stroke-width="1.3" text-anchor="middle"><tspan font-style="italic">T</tspan>(K)</text>
<text transform="translate(30.2 243.2) rotate(-90) scale(1 1.06)" font-size="40.6" stroke-width="1.2" text-anchor="middle">R/R(22K)</text>
<g fill="none" stroke-width="1.4">
<path d="M629.3 372.6H690" stroke="#000"/>
<path d="M629.3 412.2H690" stroke="#00f"/>
<path d="M629.3 445.1H690" stroke="#f00"/>
</g>
<path d="M654.2 367h11.2v11.2h-11.2Z" fill="#000"/>
<path d="M660 404.53L667.6 417.53L652.4 417.53Z" fill="#00f"/>
<path d="M653.5 445.2a6.4 6.4 0 1 0 12.8 0a6.4 6.4 0 1 0 -12.8 0Z" fill="#f00"/>
<g font-size="26" stroke-width="0.9">
<text x="696.3" y="381">CaF<tspan font-size="17" dx="0.6" dy="9.4">2</tspan></text>
<text x="697.2" y="421.4">LAO</text>
<text x="697.2" y="453.5">MgO</text>
</g>
<rect x="182.6" y="8.0" width="265.8" height="249" fill="#fff"/>
<g clip-path="url(#ci)">
<path d="M170.84 254.1h5.8v5.8h-5.8ZM176.72 254.1h5.8v5.8h-5.8ZM182.59 254.1h5.8v5.8h-5.8ZM188.46 254.1h5.8v5.8h-5.8ZM194.33 254.1h5.8v5.8h-5.8ZM200.21 254.1h5.8v5.8h-5.8ZM206.08 254.1h5.8v5.8h-5.8ZM211.95 254.1h5.8v5.8h-5.8ZM217.83 254.1h5.8v5.8h-5.8ZM223.7 254.1h5.8v5.8h-5.8ZM229.57 254.1h5.8v5.8h-5.8ZM235.44 254.1h5.8v5.8h-5.8ZM241.32 254.1h5.8v5.8h-5.8ZM247.19 254.1h5.8v5.8h-5.8ZM253.06 254.1h5.8v5.8h-5.8ZM258.94 254.1h5.8v5.8h-5.8ZM264.81 254.1h5.8v5.8h-5.8ZM270.68 254.1h5.8v5.8h-5.8ZM276.55 254.1h5.8v5.8h-5.8ZM282.43 254.25h5.8v5.8h-5.8ZM288.3 252.64h5.8v5.8h-5.8ZM294.17 249.58h5.8v5.8h-5.8ZM300.05 244.84h5.8v5.8h-5.8ZM305.92 236.75h5.8v5.8h-5.8ZM311.79 225.8h5.8v5.8h-5.8ZM317.66 211.67h5.8v5.8h-5.8ZM323.54 196.41h5.8v5.8h-5.8ZM329.41 180.78h5.8v5.8h-5.8ZM335.28 161.74h5.8v5.8h-5.8ZM341.16 145.29h5.8v5.8h-5.8ZM347.03 126.98h5.8v5.8h-5.8ZM352.9 108.83h5.8v5.8h-5.8ZM358.77 94.03h5.8v5.8h-5.8ZM364.65 78.15h5.8v5.8h-5.8ZM370.52 64.68h5.8v5.8h-5.8ZM376.39 53.96h5.8v5.8h-5.8ZM382.27 44.41h5.8v5.8h-5.8ZM388.14 35.77h5.8v5.8h-5.8ZM394.01 30.44h5.8v5.8h-5.8ZM399.88 26.98h5.8v5.8h-5.8ZM405.76 24.32h5.8v5.8h-5.8ZM411.63 21.91h5.8v5.8h-5.8ZM417.5 19.41h5.8v5.8h-5.8ZM423.38 17.5h5.8v5.8h-5.8ZM429.25 16.04h5.8v5.8h-5.8ZM435.12 14.91h5.8v5.8h-5.8ZM440.99 14.15h5.8v5.8h-5.8ZM446.87 13.57h5.8v5.8h-5.8ZM452.74 13.1h5.8v5.8h-5.8Z" fill="#000"/>
<path d="M173.81 257a2.85 2.85 0 1 0 5.7 0a2.85 2.85 0 1 0 -5.7 0ZM179.69 257a2.85 2.85 0 1 0 5.7 0a2.85 2.85 0 1 0 -5.7 0ZM185.56 257a2.85 2.85 0 1 0 5.7 0a2.85 2.85 0 1 0 -5.7 0ZM191.43 257a2.85 2.85 0 1 0 5.7 0a2.85 2.85 0 1 0 -5.7 0ZM197.3 257a2.85 2.85 0 1 0 5.7 0a2.85 2.85 0 1 0 -5.7 0ZM203.18 257a2.85 2.85 0 1 0 5.7 0a2.85 2.85 0 1 0 -5.7 0ZM209.05 257a2.85 2.85 0 1 0 5.7 0a2.85 2.85 0 1 0 -5.7 0ZM214.92 257a2.85 2.85 0 1 0 5.7 0a2.85 2.85 0 1 0 -5.7 0ZM220.8 257a2.85 2.85 0 1 0 5.7 0a2.85 2.85 0 1 0 -5.7 0ZM226.67 257a2.85 2.85 0 1 0 5.7 0a2.85 2.85 0 1 0 -5.7 0ZM232.54 257a2.85 2.85 0 1 0 5.7 0a2.85 2.85 0 1 0 -5.7 0ZM238.41 257a2.85 2.85 0 1 0 5.7 0a2.85 2.85 0 1 0 -5.7 0ZM244.29 257a2.85 2.85 0 1 0 5.7 0a2.85 2.85 0 1 0 -5.7 0ZM250.16 257a2.85 2.85 0 1 0 5.7 0a2.85 2.85 0 1 0 -5.7 0ZM256.03 257a2.85 2.85 0 1 0 5.7 0a2.85 2.85 0 1 0 -5.7 0ZM261.91 257a2.85 2.85 0 1 0 5.7 0a2.85 2.85 0 1 0 -5.7 0ZM267.78 257a2.85 2.85 0 1 0 5.7 0a2.85 2.85 0 1 0 -5.7 0ZM273.65 257a2.85 2.85 0 1 0 5.7 0a2.85 2.85 0 1 0 -5.7 0ZM279.52 257.29a2.85 2.85 0 1 0 5.7 0a2.85 2.85 0 1 0 -5.7 0ZM285.4 255.98a2.85 2.85 0 1 0 5.7 0a2.85 2.85 0 1 0 -5.7 0ZM291.27 253.28a2.85 2.85 0 1 0 5.7 0a2.85 2.85 0 1 0 -5.7 0ZM297.14 249.23a2.85 2.85 0 1 0 5.7 0a2.85 2.85 0 1 0 -5.7 0ZM303.02 242.05a2.85 2.85 0 1 0 5.7 0a2.85 2.85 0 1 0 -5.7 0ZM308.89 232.07a2.85 2.85 0 1 0 5.7 0a2.85 2.85 0 1 0 -5.7 0ZM314.76 218.81a2.85 2.85 0 1 0 5.7 0a2.85 2.85 0 1 0 -5.7 0ZM320.63 203.89a2.85 2.85 0 1 0 5.7 0a2.85 2.85 0 1 0 -5.7 0ZM326.51 188.69a2.85 2.85 0 1 0 5.7 0a2.85 2.85 0 1 0 -5.7 0ZM332.38 170.26a2.85 2.85 0 1 0 5.7 0a2.85 2.85 0 1 0 -5.7 0ZM338.25 153.55a2.85 2.85 0 1 0 5.7 0a2.85 2.85 0 1 0 -5.7 0ZM344.13 135.84a2.85 2.85 0 1 0 5.7 0a2.85 2.85 0 1 0 -5.7 0ZM350 117.16a2.85 2.85 0 1 0 5.7 0a2.85 2.85 0 1 0 -5.7 0ZM355.87 102.05a2.85 2.85 0 1 0 5.7 0a2.85 2.85 0 1 0 -5.7 0ZM361.74 86.24a2.85 2.85 0 1 0 5.7 0a2.85 2.85 0 1 0 -5.7 0ZM367.62 71.88a2.85 2.85 0 1 0 5.7 0a2.85 2.85 0 1 0 -5.7 0ZM373.49 60.56a2.85 2.85 0 1 0 5.7 0a2.85 2.85 0 1 0 -5.7 0ZM379.36 50.71a2.85 2.85 0 1 0 5.7 0a2.85 2.85 0 1 0 -5.7 0ZM385.24 41.72a2.85 2.85 0 1 0 5.7 0a2.85 2.85 0 1 0 -5.7 0ZM391.11 35.07a2.85 2.85 0 1 0 5.7 0a2.85 2.85 0 1 0 -5.7 0ZM396.98 31.08a2.85 2.85 0 1 0 5.7 0a2.85 2.85 0 1 0 -5.7 0ZM402.85 28.17a2.85 2.85 0 1 0 5.7 0a2.85 2.85 0 1 0 -5.7 0ZM408.73 25.78a2.85 2.85 0 1 0 5.7 0a2.85 2.85 0 1 0 -5.7 0ZM414.6 23.3a2.85 2.85 0 1 0 5.7 0a2.85 2.85 0 1 0 -5.7 0ZM420.47 21.1a2.85 2.85 0 1 0 5.7 0a2.85 2.85 0 1 0 -5.7 0ZM426.35 19.53a2.85 2.85 0 1 0 5.7 0a2.85 2.85 0 1 0 -5.7 0ZM432.22 18.26a2.85 2.85 0 1 0 5.7 0a2.85 2.85 0 1 0 -5.7 0ZM438.09 17.35a2.85 2.85 0 1 0 5.7 0a2.85 2.85 0 1 0 -5.7 0ZM443.96 16.71a2.85 2.85 0 1 0 5.7 0a2.85 2.85 0 1 0 -5.7 0ZM449.84 16.2a2.85 2.85 0 1 0 5.7 0a2.85 2.85 0 1 0 -5.7 0ZM455.71 15.75a2.85 2.85 0 1 0 5.7 0a2.85 2.85 0 1 0 -5.7 0Z" fill="#f00"/>
<path d="M177.7 252.73L181.2 259.13L174.2 259.13ZM183.58 252.73L187.08 259.13L180.08 259.13ZM189.45 252.73L192.95 259.13L185.95 259.13ZM195.32 252.73L198.82 259.13L191.82 259.13ZM201.2 252.73L204.7 259.13L197.7 259.13ZM207.07 252.73L210.57 259.13L203.57 259.13ZM212.94 252.73L216.44 259.13L209.44 259.13ZM218.81 252.73L222.31 259.13L215.31 259.13ZM224.69 252.73L228.19 259.13L221.19 259.13ZM230.56 252.73L234.06 259.13L227.06 259.13ZM236.43 252.73L239.93 259.13L232.93 259.13ZM242.31 252.73L245.81 259.13L238.81 259.13ZM248.18 252.73L251.68 259.13L244.68 259.13ZM254.05 252.73L257.55 259.13L250.55 259.13ZM259.92 252.73L263.42 259.13L256.42 259.13ZM265.8 252.73L269.3 259.13L262.3 259.13ZM271.67 252.73L275.17 259.13L268.17 259.13ZM277.54 252.73L281.04 259.13L274.04 259.13ZM283.42 252.62L286.92 259.02L279.92 259.02ZM289.29 250.73L292.79 257.13L285.79 257.13ZM295.16 247.57L298.66 253.97L291.66 253.97ZM301.03 242.53L304.53 248.93L297.53 248.93ZM306.91 234.35L310.41 240.75L303.41 240.75ZM312.78 223.3L316.28 229.7L309.28 229.7ZM318.65 209.21L322.15 215.61L315.15 215.61ZM324.53 194.1L328.03 200.5L321.03 200.5ZM330.4 178.53L333.9 184.93L326.9 184.93ZM336.27 159.79L339.77 166.19L332.77 166.19ZM342.14 143.48L345.64 149.88L338.64 149.88ZM348.02 125.33L351.52 131.73L344.52 131.73ZM353.89 107.48L357.39 113.88L350.39 113.88ZM359.76 92.83L363.26 99.23L356.26 99.23ZM365.64 77.17L369.14 83.57L362.14 83.57ZM371.51 63.79L375.01 70.19L368.01 70.19ZM377.38 53.14L380.88 59.54L373.88 59.54ZM383.25 43.7L386.75 50.1L379.75 50.1ZM389.13 35.05L392.63 41.45L385.63 41.45ZM395 29.48L398.5 35.88L391.5 35.88ZM400.87 25.92L404.37 32.32L397.37 32.32ZM406.75 23.21L410.25 29.61L403.25 29.61ZM412.62 20.85L416.12 27.25L409.12 27.25ZM418.49 18.39L421.99 24.79L414.99 24.79ZM424.36 16.41L427.86 22.81L420.86 22.81ZM430.24 14.93L433.74 21.33L426.74 21.33ZM436.11 13.75L439.61 20.15L432.61 20.15ZM441.98 12.92L445.48 19.32L438.48 19.32ZM447.86 12.32L451.36 18.72L444.36 18.72ZM453.73 11.83L457.23 18.23L450.23 18.23Z" fill="#00f"/>
<path d="M365.21 75.2L371.08 63.51L376.96 53.58L382.83 44.81L388.7 37.14L394.58 32.44L400.45 29.26L406.32 26.75L412.19 24.44L418.07 22.14L423.94 20.38L429.81 18.99L435.69 17.88L441.56 17.11L447.43 16.53L453.3 16.05" stroke="#f0f" stroke-width="1.1" fill="none"/>
<path d="M177.28 261.27L180.78 254.87L173.78 254.87ZM183.15 261.27L186.65 254.87L179.65 254.87ZM189.03 261.27L192.53 254.87L185.53 254.87ZM194.9 261.27L198.4 254.87L191.4 254.87ZM200.77 261.27L204.27 254.87L197.27 254.87ZM206.64 261.27L210.14 254.87L203.14 254.87ZM212.52 261.27L216.02 254.87L209.02 254.87ZM218.39 261.27L221.89 254.87L214.89 254.87ZM224.26 261.27L227.76 254.87L220.76 254.87ZM230.14 261.27L233.64 254.87L226.64 254.87ZM236.01 261.27L239.51 254.87L232.51 254.87ZM241.88 261.27L245.38 254.87L238.38 254.87ZM247.75 261.27L251.25 254.87L244.25 254.87ZM253.63 261.27L257.13 254.87L250.13 254.87ZM259.5 261.27L263 254.87L256 254.87ZM265.37 261.27L268.87 254.87L261.87 254.87ZM271.25 261.27L274.75 254.87L267.75 254.87ZM277.12 261.26L280.62 254.86L273.62 254.86ZM282.99 259.61L286.49 253.21L279.49 253.21ZM288.86 256.79L292.36 250.39L285.36 250.39ZM294.74 252.65L298.24 246.25L291.24 246.25ZM300.61 245.63L304.11 239.23L297.11 239.23ZM306.48 235.94L309.98 229.54L302.98 229.54ZM312.36 223.1L315.86 216.7L308.86 216.7ZM318.23 208.62L321.73 202.22L314.73 202.22ZM324.1 193.81L327.6 187.41L320.6 187.41ZM329.97 176.21L333.47 169.81L326.47 169.81ZM335.85 159.62L339.35 153.22L332.35 153.22ZM341.72 142.48L345.22 136.08L338.22 136.08ZM347.59 124.42L351.09 118.02L344.09 118.02ZM353.47 109.02L356.97 102.62L349.97 102.62ZM359.34 93.94L362.84 87.54L355.84 87.54ZM365.21 79.46L368.71 73.06L361.71 73.06ZM371.08 67.78L374.58 61.38L367.58 61.38ZM376.96 57.85L380.46 51.45L373.46 51.45ZM382.83 49.07L386.33 42.67L379.33 42.67ZM388.7 41.4L392.2 35L385.2 35ZM394.58 36.7L398.08 30.3L391.08 30.3ZM400.45 33.52L403.95 27.12L396.95 27.12ZM406.32 31.02L409.82 24.62L402.82 24.62ZM412.19 28.71L415.69 22.31L408.69 22.31ZM418.07 26.4L421.57 20L414.57 20ZM423.94 24.64L427.44 18.24L420.44 18.24ZM429.81 23.25L433.31 16.85L426.31 16.85ZM435.69 22.15L439.19 15.75L432.19 15.75ZM441.56 21.38L445.06 14.98L438.06 14.98ZM447.43 20.8L450.93 14.4L443.93 14.4ZM453.3 20.32L456.8 13.92L449.8 13.92Z" fill="#f0f"/>
<path d="M175.26 253.4L178.86 257L175.26 260.6L171.66 257ZM181.13 253.4L184.73 257L181.13 260.6L177.53 257ZM187.01 253.4L190.61 257L187.01 260.6L183.41 257ZM192.88 253.4L196.48 257L192.88 260.6L189.28 257ZM198.75 253.4L202.35 257L198.75 260.6L195.15 257ZM204.63 253.4L208.23 257L204.63 260.6L201.03 257ZM210.5 253.4L214.1 257L210.5 260.6L206.9 257ZM216.37 253.4L219.97 257L216.37 260.6L212.77 257ZM222.24 253.4L225.84 257L222.24 260.6L218.64 257ZM228.12 253.4L231.72 257L228.12 260.6L224.52 257ZM233.99 253.4L237.59 257L233.99 260.6L230.39 257ZM239.86 253.4L243.46 257L239.86 260.6L236.26 257ZM245.74 253.4L249.34 257L245.74 260.6L242.14 257ZM251.61 253.4L255.21 257L251.61 260.6L248.01 257ZM257.48 253.4L261.08 257L257.48 260.6L253.88 257ZM263.35 253.4L266.95 257L263.35 260.6L259.75 257ZM269.23 253.64L272.83 257.24L269.23 260.84L265.63 257.24ZM275.1 252.4L278.7 256L275.1 259.6L271.5 256ZM280.97 250.11L284.57 253.71L280.97 257.31L277.37 253.71ZM286.85 246.9L290.45 250.5L286.85 254.1L283.25 250.5ZM292.72 241.64L296.32 245.24L292.72 248.84L289.12 245.24ZM298.59 233.78L302.19 237.38L298.59 240.98L294.99 237.38ZM304.46 223.13L308.06 226.73L304.46 230.33L300.86 226.73ZM310.34 209.72L313.94 213.32L310.34 216.92L306.74 213.32ZM316.21 195.22L319.81 198.82L316.21 202.42L312.61 198.82ZM322.08 180.42L325.68 184.02L322.08 187.62L318.48 184.02ZM327.96 162.55L331.56 166.15L327.96 169.75L324.36 166.15ZM333.83 146.82L337.43 150.42L333.83 154.02L330.23 150.42ZM339.7 129.43L343.3 133.03L339.7 136.63L336.1 133.03ZM345.57 112.06L349.17 115.66L345.57 119.26L341.97 115.66ZM351.45 97.73L355.05 101.33L351.45 104.93L347.85 101.33ZM357.32 82.73L360.92 86.33L357.32 89.93L353.72 86.33ZM363.19 69.1L366.79 72.7L363.19 76.3L359.59 72.7ZM369.07 58.23L372.67 61.83L369.07 65.43L365.47 61.83ZM374.94 48.63L378.54 52.23L374.94 55.83L371.34 52.23ZM380.81 40.31L384.41 43.91L380.81 47.51L377.21 43.91ZM386.68 33.04L390.28 36.64L386.68 40.24L383.08 36.64ZM392.56 28.55L396.16 32.15L392.56 35.75L388.96 32.15ZM398.43 25.47L402.03 29.07L398.43 32.67L394.83 29.07ZM404.3 23.03L407.9 26.63L404.3 30.23L400.7 26.63ZM410.18 20.79L413.78 24.39L410.18 27.99L406.58 24.39ZM416.05 18.59L419.65 22.19L416.05 25.79L412.45 22.19ZM421.92 16.87L425.52 20.47L421.92 24.07L418.32 20.47ZM427.79 15.51L431.39 19.11L427.79 22.71L424.19 19.11ZM433.67 14.4L437.27 18L433.67 21.6L430.07 18ZM439.54 13.6L443.14 17.2L439.54 20.8L435.94 17.2ZM445.41 13.01L449.01 16.61L445.41 20.21L441.81 16.61ZM451.29 12.53L454.89 16.13L451.29 19.73L447.69 16.13ZM457.16 12.08L460.76 15.68L457.16 19.28L453.56 15.68Z" fill="#008000"/>
<path d="M172.01 257L178.31 253.6L178.31 260.4ZM177.88 257L184.18 253.6L184.18 260.4ZM183.75 257L190.05 253.6L190.05 260.4ZM189.63 257L195.93 253.6L195.93 260.4ZM195.5 257L201.8 253.6L201.8 260.4ZM201.37 257L207.67 253.6L207.67 260.4ZM207.24 257L213.54 253.6L213.54 260.4ZM213.12 257L219.42 253.6L219.42 260.4ZM218.99 257L225.29 253.6L225.29 260.4ZM224.86 257L231.16 253.6L231.16 260.4ZM230.74 257L237.04 253.6L237.04 260.4ZM236.61 257L242.91 253.6L242.91 260.4ZM242.48 257L248.78 253.6L248.78 260.4ZM248.35 257L254.65 253.6L254.65 260.4ZM254.23 257L260.53 253.6L260.53 260.4ZM260.1 256.61L266.4 253.21L266.4 260.01ZM265.97 254.9L272.27 251.5L272.27 258.3ZM271.85 252.36L278.15 248.96L278.15 255.76ZM277.72 248.8L284.02 245.4L284.02 252.2ZM283.59 243.04L289.89 239.64L289.89 246.44ZM289.46 234.88L295.76 231.48L295.76 238.28ZM295.34 223.95L301.64 220.55L301.64 227.35ZM301.21 210.73L307.51 207.33L307.51 214.13ZM307.08 196.59L313.38 193.19L313.38 199.99ZM312.96 181.91L319.26 178.51L319.26 185.31ZM318.83 164.69L325.13 161.29L325.13 168.09ZM324.7 149.29L331 145.89L331 152.69ZM330.57 132.26L336.87 128.86L336.87 135.66ZM336.45 115.59L342.75 112.19L342.75 118.99ZM342.32 101.6L348.62 98.2L348.62 105ZM348.19 87.1L354.49 83.7L354.49 90.5ZM354.07 73.8L360.37 70.4L360.37 77.2ZM359.94 63.06L366.24 59.66L366.24 66.46ZM365.81 53.57L372.11 50.17L372.11 56.97ZM371.68 45.54L377.98 42.14L377.98 48.94ZM377.56 38.01L383.86 34.61L383.86 41.41ZM383.43 33.07L389.73 29.67L389.73 36.47ZM389.3 29.8L395.6 26.4L395.6 33.2ZM395.18 27.26L401.48 23.86L401.48 30.66ZM401.05 25.1L407.35 21.7L407.35 28.5ZM406.92 22.98L413.22 19.58L413.22 26.38ZM412.79 21.12L419.09 17.72L419.09 24.52ZM418.67 19.72L424.97 16.32L424.97 23.12ZM424.54 18.53L430.84 15.13L430.84 21.93ZM430.41 17.6L436.71 14.2L436.71 21ZM436.29 16.93L442.59 13.53L442.59 20.33ZM442.16 16.39L448.46 12.99L448.46 19.79ZM448.03 15.94L454.33 12.54L454.33 19.34ZM453.9 15.51L460.2 12.11L460.2 18.91Z" fill="#000080"/>
<path d="M178.52 257L172.22 253.6L172.22 260.4ZM184.39 257L178.09 253.6L178.09 260.4ZM190.26 257L183.96 253.6L183.96 260.4ZM196.13 257L189.83 253.6L189.83 260.4ZM202.01 257L195.71 253.6L195.71 260.4ZM207.88 257L201.58 253.6L201.58 260.4ZM213.75 257L207.45 253.6L207.45 260.4ZM219.63 257L213.33 253.6L213.33 260.4ZM225.5 257L219.2 253.6L219.2 260.4ZM231.37 257L225.07 253.6L225.07 260.4ZM237.25 257L230.95 253.6L230.95 260.4ZM243.12 257L236.82 253.6L236.82 260.4ZM248.99 257L242.69 253.6L242.69 260.4ZM254.86 257.1L248.56 253.7L248.56 260.5ZM260.74 255.89L254.44 252.49L254.44 259.29ZM266.61 253.93L260.31 250.53L260.31 257.33ZM272.48 251.39L266.18 247.99L266.18 254.79ZM278.36 247.68L272.06 244.28L272.06 251.08ZM284.23 242L277.93 238.6L277.93 245.4ZM290.1 234.04L283.8 230.64L283.8 237.44ZM295.97 223.5L289.67 220.1L289.67 226.9ZM301.85 210.82L295.55 207.42L295.55 214.22ZM307.72 197.17L301.42 193.77L301.42 200.57ZM313.59 183.18L307.29 179.78L307.29 186.58ZM319.47 166.64L313.17 163.24L313.17 170.04ZM325.34 151.75L319.04 148.35L319.04 155.15ZM331.21 135.27L324.91 131.87L324.91 138.67ZM337.08 119.31L330.78 115.91L330.78 122.71ZM342.96 105.14L336.66 101.74L336.66 108.54ZM348.83 91.43L342.53 88.03L342.53 94.83ZM354.7 78.11L348.4 74.71L348.4 81.51ZM360.58 66.88L354.28 63.48L354.28 70.28ZM366.45 57.46L360.15 54.06L360.15 60.86ZM372.32 49.19L366.02 45.79L366.02 52.59ZM378.19 41.76L371.89 38.36L371.89 45.16ZM384.07 35.53L377.77 32.13L377.77 38.93ZM389.94 31.52L383.64 28.12L383.64 34.92ZM395.81 28.67L389.51 25.27L389.51 32.07ZM401.69 26.39L395.39 22.99L395.39 29.79ZM407.56 24.38L401.26 20.98L401.26 27.78ZM413.43 22.45L407.13 19.05L407.13 25.85ZM419.3 20.82L413 17.42L413 24.22ZM425.18 19.54L418.88 16.14L418.88 22.94ZM431.05 18.43L424.75 15.03L424.75 21.83ZM436.92 17.55L430.62 14.15L430.62 20.95ZM442.8 16.91L436.5 13.51L436.5 20.31ZM448.67 16.39L442.37 12.99L442.37 19.79ZM454.54 15.94L448.24 12.54L448.24 19.34ZM460.41 15.52L454.11 12.12L454.11 18.92Z" fill="#8000ff"/>
<path d="M174.19 253.45L177.26 255.22L177.26 258.77L174.19 260.55L171.11 258.77L171.11 255.22ZM180.06 253.45L183.14 255.22L183.14 258.77L180.06 260.55L176.99 258.77L176.99 255.22ZM185.93 253.45L189.01 255.22L189.01 258.77L185.93 260.55L182.86 258.77L182.86 255.22ZM191.81 253.45L194.88 255.22L194.88 258.77L191.81 260.55L188.73 258.77L188.73 255.22ZM197.68 253.45L200.75 255.22L200.75 258.77L197.68 260.55L194.61 258.77L194.61 255.22ZM203.55 253.45L206.63 255.22L206.63 258.77L203.55 260.55L200.48 258.77L200.48 255.22ZM209.43 253.45L212.5 255.22L212.5 258.77L209.43 260.55L206.35 258.77L206.35 255.22ZM215.3 253.45L218.37 255.22L218.37 258.77L215.3 260.55L212.22 258.77L212.22 255.22ZM221.17 253.45L224.25 255.22L224.25 258.77L221.17 260.55L218.1 258.77L218.1 255.22ZM227.04 253.45L230.12 255.22L230.12 258.77L227.04 260.55L223.97 258.77L223.97 255.22ZM232.92 253.45L235.99 255.22L235.99 258.77L232.92 260.55L229.84 258.77L229.84 255.22ZM238.79 253.23L241.86 255.01L241.86 258.56L238.79 260.33L235.72 258.56L235.72 255.01ZM244.66 251.95L247.74 253.72L247.74 257.27L244.66 259.05L241.59 257.27L241.59 253.72ZM250.54 250.07L253.61 251.84L253.61 255.39L250.54 257.17L247.46 255.39L247.46 251.84ZM256.41 247.74L259.48 249.51L259.48 253.06L256.41 254.84L253.33 253.06L253.33 249.51ZM262.28 244.42L265.36 246.2L265.36 249.75L262.28 251.52L259.21 249.75L259.21 246.2ZM268.15 239.53L271.23 241.3L271.23 244.85L268.15 246.63L265.08 244.85L265.08 241.3ZM274.03 232.62L277.1 234.4L277.1 237.95L274.03 239.72L270.95 237.95L270.95 234.4ZM279.9 223.46L282.97 225.23L282.97 228.78L279.9 230.56L276.83 228.78L276.83 225.23ZM285.77 211.9L288.85 213.67L288.85 217.22L285.77 219L282.7 217.22L282.7 213.67ZM291.65 199.11L294.72 200.89L294.72 204.44L291.65 206.21L288.57 204.44L288.57 200.89ZM297.52 186.01L300.59 187.78L300.59 191.33L297.52 193.11L294.44 191.33L294.44 187.78ZM303.39 171.22L306.47 172.99L306.47 176.54L303.39 178.32L300.32 176.54L300.32 172.99ZM309.26 156.2L312.34 157.98L312.34 161.53L309.26 163.3L306.19 161.53L306.19 157.98ZM315.14 141.19L318.21 142.97L318.21 146.52L315.14 148.29L312.06 146.52L312.06 142.97ZM321.01 125.48L324.08 127.26L324.08 130.81L321.01 132.58L317.94 130.81L317.94 127.26ZM326.88 110.61L329.96 112.38L329.96 115.93L326.88 117.71L323.81 115.93L323.81 112.38ZM332.76 97.63L335.83 99.41L335.83 102.96L332.76 104.73L329.68 102.96L329.68 99.41ZM338.63 84.38L341.7 86.16L341.7 89.71L338.63 91.48L335.55 89.71L335.55 86.16ZM344.5 72.11L347.58 73.89L347.58 77.44L344.5 79.21L341.43 77.44L341.43 73.89ZM350.37 61.92L353.45 63.69L353.45 67.24L350.37 69.02L347.3 67.24L347.3 63.69ZM356.25 52.95L359.32 54.72L359.32 58.27L356.25 60.05L353.17 58.27L353.17 54.72ZM362.12 45.32L365.19 47.09L365.19 50.64L362.12 52.42L359.05 50.64L359.05 47.09ZM367.99 38.36L371.07 40.13L371.07 43.68L367.99 45.46L364.92 43.68L364.92 40.13ZM373.87 32.26L376.94 34.03L376.94 37.58L373.87 39.36L370.79 37.58L370.79 34.03ZM379.74 28.21L382.81 29.98L382.81 33.53L379.74 35.31L376.66 33.53L376.66 29.98ZM385.61 25.36L388.69 27.13L388.69 30.68L385.61 32.46L382.54 30.68L382.54 27.13ZM391.48 23.1L394.56 24.88L394.56 28.43L391.48 30.2L388.41 28.43L388.41 24.88ZM397.36 21.19L400.43 22.97L400.43 26.52L397.36 28.29L394.28 26.52L394.28 22.97ZM403.23 19.4L406.3 21.17L406.3 24.72L403.23 26.5L400.16 24.72L400.16 21.17ZM409.1 17.77L412.18 19.54L412.18 23.09L409.1 24.87L406.03 23.09L406.03 19.54ZM414.98 16.5L418.05 18.27L418.05 21.82L414.98 23.6L411.9 21.82L411.9 18.27ZM420.85 15.38L423.92 17.16L423.92 20.71L420.85 22.48L417.77 20.71L417.77 17.16ZM426.72 14.43L429.8 16.2L429.8 19.75L426.72 21.53L423.65 19.75L423.65 16.2ZM432.59 13.7L435.67 15.47L435.67 19.02L432.59 20.8L429.52 19.02L429.52 15.47ZM438.47 13.13L441.54 14.9L441.54 18.45L438.47 20.23L435.39 18.45L435.39 14.9ZM444.34 12.65L447.41 14.43L447.41 17.98L444.34 19.75L441.27 17.98L441.27 14.43ZM450.21 12.22L453.29 14L453.29 17.55L450.21 19.32L447.14 17.55L447.14 14ZM456.09 11.82L459.16 13.6L459.16 17.15L456.09 18.92L453.01 17.15L453.01 13.6Z" fill="#800080"/>
<path d="M172.79 252.8L173.85 255.54L176.78 255.7L174.5 257.56L175.26 260.4L172.79 258.8L170.32 260.4L171.08 257.56L168.79 255.7L171.73 255.54ZM178.63 252.8L179.69 255.54L182.62 255.7L180.34 257.56L181.1 260.4L178.63 258.8L176.16 260.4L176.92 257.56L174.63 255.7L177.57 255.54ZM184.47 252.8L185.53 255.54L188.46 255.7L186.18 257.56L186.94 260.4L184.47 258.8L182 260.4L182.76 257.56L180.47 255.7L183.41 255.54ZM190.31 252.8L191.37 255.54L194.3 255.7L192.02 257.56L192.78 260.4L190.31 258.8L187.84 260.4L188.6 257.56L186.32 255.7L189.25 255.54ZM196.15 252.8L197.21 255.54L200.15 255.7L197.86 257.56L198.62 260.4L196.15 258.8L193.68 260.4L194.44 257.56L192.16 255.7L195.09 255.54ZM201.99 252.8L203.05 255.54L205.99 255.7L203.7 257.56L204.46 260.4L201.99 258.8L199.52 260.4L200.28 257.56L198 255.7L200.93 255.54ZM207.83 252.8L208.89 255.54L211.83 255.7L209.55 257.56L210.3 260.4L207.83 258.8L205.36 260.4L206.12 257.56L203.84 255.7L206.78 255.54ZM213.67 252.8L214.73 255.54L217.67 255.7L215.39 257.56L216.14 260.4L213.67 258.8L211.21 260.4L211.96 257.56L209.68 255.7L212.62 255.54ZM219.52 252.8L220.57 255.54L223.51 255.7L221.23 257.56L221.98 260.4L219.52 258.8L217.05 260.4L217.8 257.56L215.52 255.7L218.46 255.54ZM225.36 252.47L226.41 255.22L229.35 255.38L227.07 257.23L227.82 260.07L225.36 258.47L222.89 260.07L223.64 257.23L221.36 255.38L224.3 255.22ZM231.2 251.27L232.26 254.01L235.19 254.17L232.91 256.02L233.67 258.87L231.2 257.27L228.73 258.87L229.49 256.02L227.2 254.17L230.14 254.01ZM237.04 249.58L238.1 252.32L241.03 252.48L238.75 254.34L239.51 257.18L237.04 255.58L234.57 257.18L235.33 254.34L233.04 252.48L235.98 252.32ZM242.88 247.55L243.94 250.29L246.87 250.45L244.59 252.31L245.35 255.15L242.88 253.55L240.41 255.15L241.17 252.31L238.88 250.45L241.82 250.29ZM248.72 244.83L249.78 247.57L252.71 247.73L250.43 249.58L251.19 252.42L248.72 250.83L246.25 252.42L247.01 249.58L244.73 247.73L247.66 247.57ZM254.56 240.91L255.62 243.65L258.56 243.81L256.27 245.66L257.03 248.5L254.56 246.91L252.09 248.5L252.85 245.66L250.57 243.81L253.5 243.65ZM260.4 235.42L261.46 238.16L264.4 238.32L262.11 240.18L262.87 243.02L260.4 241.42L257.93 243.02L258.69 240.18L256.41 238.32L259.34 238.16ZM266.24 227.94L267.3 230.68L270.24 230.84L267.96 232.7L268.71 235.54L266.24 233.94L263.77 235.54L264.53 232.7L262.25 230.84L265.19 230.68ZM272.08 218.25L273.14 221L276.08 221.16L273.8 223.01L274.55 225.85L272.08 224.25L269.62 225.85L270.37 223.01L268.09 221.16L271.03 221ZM277.93 206.86L278.98 209.6L281.92 209.76L279.64 211.61L280.39 214.45L277.93 212.86L275.46 214.45L276.21 211.61L273.93 209.76L276.87 209.6ZM283.77 194.39L284.82 197.13L287.76 197.29L285.48 199.15L286.23 201.99L283.77 200.39L281.3 201.99L282.05 199.15L279.77 197.29L282.71 197.13ZM289.61 181.79L290.67 184.54L293.6 184.7L291.32 186.55L292.08 189.39L289.61 187.79L287.14 189.39L287.9 186.55L285.61 184.7L288.55 184.54ZM295.45 167.27L296.51 170.02L299.44 170.18L297.16 172.03L297.92 174.87L295.45 173.27L292.98 174.87L293.74 172.03L291.45 170.18L294.39 170.02ZM301.29 153.32L302.35 156.07L305.28 156.22L303 158.08L303.76 160.92L301.29 159.32L298.82 160.92L299.58 158.08L297.29 156.22L300.23 156.07ZM307.13 138.54L308.19 141.28L311.12 141.44L308.84 143.29L309.6 146.13L307.13 144.54L304.66 146.13L305.42 143.29L303.14 141.44L306.07 141.28ZM312.97 123.75L314.03 126.5L316.97 126.65L314.68 128.51L315.44 131.35L312.97 129.75L310.5 131.35L311.26 128.51L308.98 126.65L311.91 126.5ZM318.81 109.75L319.87 112.49L322.81 112.65L320.52 114.5L321.28 117.34L318.81 115.75L316.34 117.34L317.1 114.5L314.82 112.65L317.75 112.49ZM324.65 97.3L325.71 100.04L328.65 100.2L326.37 102.06L327.12 104.9L324.65 103.3L322.18 104.9L322.94 102.06L320.66 100.2L323.6 100.04ZM330.49 84.75L331.55 87.49L334.49 87.65L332.21 89.5L332.96 92.34L330.49 90.75L328.03 92.34L328.78 89.5L326.5 87.65L329.44 87.49ZM336.34 73L337.39 75.74L340.33 75.9L338.05 77.75L338.8 80.59L336.34 79L333.87 80.59L334.62 77.75L332.34 75.9L335.28 75.74ZM342.18 62.99L343.23 65.73L346.17 65.89L343.89 67.74L344.64 70.59L342.18 68.99L339.71 70.59L340.46 67.74L338.18 65.89L341.12 65.73ZM348.02 54.47L349.08 57.22L352.01 57.37L349.73 59.23L350.49 62.07L348.02 60.47L345.55 62.07L346.31 59.23L344.02 57.37L346.96 57.22ZM353.86 46.58L354.92 49.32L357.85 49.48L355.57 51.33L356.33 54.17L353.86 52.58L351.39 54.17L352.15 51.33L349.86 49.48L352.8 49.32ZM359.7 40.31L360.76 43.06L363.69 43.21L361.41 45.07L362.17 47.91L359.7 46.31L357.23 47.91L357.99 45.07L355.7 43.21L358.64 43.06ZM365.54 33.85L366.6 36.59L369.53 36.75L367.25 38.61L368.01 41.45L365.54 39.85L363.07 41.45L363.83 38.61L361.55 36.75L364.48 36.59ZM371.38 29.12L372.44 31.86L375.38 32.02L373.09 33.88L373.85 36.72L371.38 35.12L368.91 36.72L369.67 33.88L367.39 32.02L370.32 31.86ZM377.22 25.95L378.28 28.7L381.22 28.85L378.93 30.71L379.69 33.55L377.22 31.95L374.75 33.55L375.51 30.71L373.23 28.85L376.16 28.7ZM383.06 23.52L384.12 26.27L387.06 26.42L384.78 28.28L385.53 31.12L383.06 29.52L380.59 31.12L381.35 28.28L379.07 26.42L382.01 26.27ZM388.9 21.55L389.96 24.3L392.9 24.46L390.62 26.31L391.37 29.15L388.9 27.55L386.44 29.15L387.19 26.31L384.91 24.46L387.85 24.3ZM394.75 19.84L395.8 22.59L398.74 22.74L396.46 24.6L397.21 27.44L394.75 25.84L392.28 27.44L393.03 24.6L390.75 22.74L393.69 22.59ZM400.59 18.23L401.64 20.97L404.58 21.13L402.3 22.99L403.05 25.83L400.59 24.23L398.12 25.83L398.87 22.99L396.59 21.13L399.53 20.97ZM406.43 16.81L407.49 19.55L410.42 19.71L408.14 21.57L408.9 24.41L406.43 22.81L403.96 24.41L404.72 21.57L402.43 19.71L405.37 19.55ZM412.27 15.67L413.33 18.41L416.26 18.57L413.98 20.42L414.74 23.26L412.27 21.67L409.8 23.26L410.56 20.42L408.27 18.57L411.21 18.41ZM418.11 14.64L419.17 17.38L422.1 17.54L419.82 19.39L420.58 22.24L418.11 20.64L415.64 22.24L416.4 19.39L414.11 17.54L417.05 17.38ZM423.95 13.75L425.01 16.49L427.94 16.65L425.66 18.5L426.42 21.35L423.95 19.75L421.48 21.35L422.24 18.5L419.96 16.65L422.89 16.49ZM429.79 13.05L430.85 15.79L433.79 15.95L431.5 17.81L432.26 20.65L429.79 19.05L427.32 20.65L428.08 17.81L425.8 15.95L428.73 15.79ZM435.63 12.49L436.69 15.24L439.63 15.4L437.34 17.25L438.1 20.09L435.63 18.49L433.16 20.09L433.92 17.25L431.64 15.4L434.57 15.24ZM441.47 12.03L442.53 14.77L445.47 14.93L443.19 16.78L443.94 19.63L441.47 18.03L439 19.63L439.76 16.78L437.48 14.93L440.42 14.77ZM447.31 11.61L448.37 14.35L451.31 14.51L449.03 16.36L449.78 19.21L447.31 17.61L444.85 19.21L445.6 16.36L443.32 14.51L446.26 14.35ZM453.16 11.21L454.21 13.95L457.15 14.11L454.87 15.97L455.62 18.81L453.16 17.21L450.69 18.81L451.44 15.97L449.16 14.11L452.1 13.95Z" fill="#800000"/>
<path d="M174.16 253L177.96 255.76L176.51 260.24L171.81 260.24L170.35 255.76ZM179.98 253L183.78 255.76L182.33 260.24L177.63 260.24L176.17 255.76ZM185.8 253L189.6 255.76L188.15 260.24L183.45 260.24L181.99 255.76ZM191.62 253L195.42 255.76L193.97 260.24L189.27 260.24L187.81 255.76ZM197.44 253L201.24 255.76L199.79 260.24L195.08 260.24L193.63 255.76ZM203.26 253.25L207.06 256.02L205.61 260.49L200.9 260.49L199.45 256.02ZM209.08 252.48L212.88 255.24L211.43 259.71L206.72 259.71L205.27 255.24ZM214.9 251.32L218.7 254.09L217.25 258.56L212.54 258.56L211.09 254.09ZM220.72 249.8L224.52 252.56L223.07 257.04L218.36 257.04L216.91 252.56ZM226.53 248.01L230.34 250.78L228.89 255.25L224.18 255.25L222.73 250.78ZM232.35 245.73L236.16 248.5L234.71 252.97L230 252.97L228.55 248.5ZM238.17 242.56L241.98 245.32L240.53 249.79L235.82 249.79L234.37 245.32ZM243.99 238.26L247.8 241.03L246.35 245.5L241.64 245.5L240.19 241.03ZM249.81 232.28L253.62 235.04L252.17 239.52L247.46 239.52L246.01 235.04ZM255.63 224.53L259.44 227.29L257.98 231.76L253.28 231.76L251.83 227.29ZM261.45 214.69L265.26 217.46L263.8 221.93L259.1 221.93L257.65 217.46ZM267.27 203.62L271.08 206.38L269.62 210.86L264.92 210.86L263.47 206.38ZM273.09 191.72L276.9 194.49L275.44 198.96L270.74 198.96L269.29 194.49ZM278.91 179.63L282.72 182.39L281.26 186.87L276.56 186.87L275.11 182.39ZM284.73 165.82L288.54 168.58L287.08 173.06L282.38 173.06L280.93 168.58ZM290.55 152.7L294.36 155.46L292.9 159.94L288.2 159.94L286.75 155.46ZM296.37 138.39L300.18 141.16L298.72 145.63L294.02 145.63L292.57 141.16ZM302.19 124.42L306 127.18L304.54 131.65L299.84 131.65L298.39 127.18ZM308.01 111.32L311.82 114.09L310.36 118.56L305.66 118.56L304.21 114.09ZM313.83 99.32L317.64 102.08L316.18 106.55L311.48 106.55L310.03 102.08ZM319.65 87.48L323.46 90.25L322 94.72L317.3 94.72L315.85 90.25ZM325.47 76.19L329.28 78.95L327.82 83.43L323.12 83.43L321.67 78.95ZM331.29 66.21L335.09 68.98L333.64 73.45L328.94 73.45L327.49 68.98ZM337.11 58.06L340.91 60.82L339.46 65.29L334.76 65.29L333.31 60.82ZM342.93 49.91L346.73 52.67L345.28 57.15L340.58 57.15L339.13 52.67ZM348.75 43.86L352.55 46.63L351.1 51.1L346.4 51.1L344.95 46.63ZM354.57 37.76L358.37 40.52L356.92 44.99L352.22 44.99L350.77 40.52ZM360.39 32.15L364.19 34.91L362.74 39.38L358.04 39.38L356.59 34.91ZM366.21 28.13L370.01 30.89L368.56 35.36L363.86 35.36L362.4 30.89ZM372.03 25.34L375.83 28.11L374.38 32.58L369.68 32.58L368.22 28.11ZM377.85 23.15L381.65 25.91L380.2 30.39L375.5 30.39L374.04 25.91ZM383.67 21.38L387.47 24.14L386.02 28.61L381.32 28.61L379.86 24.14ZM389.49 19.83L393.29 22.6L391.84 27.07L387.14 27.07L385.68 22.6ZM395.31 18.38L399.11 21.14L397.66 25.62L392.96 25.62L391.5 21.14ZM401.13 17.07L404.93 19.84L403.48 24.31L398.78 24.31L397.32 19.84ZM406.95 16.01L410.75 18.77L409.3 23.24L404.6 23.24L403.14 18.77ZM412.77 15.03L416.57 17.8L415.12 22.27L410.42 22.27L408.96 17.8ZM418.59 14.17L422.39 16.93L420.94 21.4L416.24 21.4L414.78 16.93ZM424.41 13.45L428.21 16.21L426.76 20.68L422.06 20.68L420.6 16.21ZM430.23 12.88L434.03 15.64L432.58 20.11L427.88 20.11L426.42 15.64ZM436.05 12.4L439.85 15.16L438.4 19.63L433.7 19.63L432.24 15.16ZM441.87 11.98L445.67 14.74L444.22 19.21L439.51 19.21L438.06 14.74ZM447.69 11.58L451.49 14.34L450.04 18.81L445.33 18.81L443.88 14.34ZM453.51 11.21L457.31 13.97L455.86 18.45L451.15 18.45L449.7 13.97Z" fill="#808000"/>
<g fill="url(#sph)">
<circle cx="172.94" cy="257" r="3.0"/>
<circle cx="178.72" cy="257" r="3.0"/>
<circle cx="184.51" cy="257.29" r="3.0"/>
<circle cx="190.3" cy="256.63" r="3.0"/>
<circle cx="196.09" cy="255.66" r="3.0"/>
<circle cx="201.88" cy="254.36" r="3.0"/>
<circle cx="207.66" cy="252.86" r="3.0"/>
<circle cx="213.45" cy="251.08" r="3.0"/>
<circle cx="219.24" cy="248.74" r="3.0"/>
<circle cx="225.03" cy="245.62" r="3.0"/>
<circle cx="230.81" cy="241.48" r="3.0"/>
<circle cx="236.6" cy="235.78" r="3.0"/>
<circle cx="242.39" cy="228.53" r="3.0"/>
<circle cx="248.18" cy="219.39" r="3.0"/>
<circle cx="253.97" cy="209.08" r="3.0"/>
<circle cx="259.75" cy="197.82" r="3.0"/>
<circle cx="265.54" cy="186.51" r="3.0"/>
<circle cx="271.33" cy="173.93" r="3.0"/>
<circle cx="277.12" cy="161.26" r="3.0"/>
<circle cx="282.91" cy="148.24" r="3.0"/>
<circle cx="288.69" cy="134.15" r="3.0"/>
<circle cx="294.48" cy="122.15" r="3.0"/>
<circle cx="300.27" cy="109.91" r="3.0"/>
<circle cx="306.06" cy="98.67" r="3.0"/>
<circle cx="311.85" cy="87.63" r="3.0"/>
<circle cx="317.63" cy="77.34" r="3.0"/>
<circle cx="323.42" cy="68.4" r="3.0"/>
<circle cx="329.21" cy="60.9" r="3.0"/>
<circle cx="335" cy="53.18" r="3.0"/>
<circle cx="340.78" cy="47.77" r="3.0"/>
<circle cx="346.57" cy="42.1" r="3.0"/>
<circle cx="352.36" cy="36.66" r="3.0"/>
<circle cx="358.15" cy="32.56" r="3.0"/>
<circle cx="363.94" cy="29.75" r="3.0"/>
<circle cx="369.72" cy="27.55" r="3.0"/>
<circle cx="375.51" cy="25.78" r="3.0"/>
<circle cx="381.3" cy="24.33" r="3.0"/>
<circle cx="387.09" cy="22.98" r="3.0"/>
<circle cx="392.88" cy="21.69" r="3.0"/>
<circle cx="398.66" cy="20.61" r="3.0"/>
<circle cx="404.45" cy="19.66" r="3.0"/>
<circle cx="410.24" cy="18.78" r="3.0"/>
<circle cx="416.03" cy="18" r="3.0"/>
<circle cx="421.82" cy="17.34" r="3.0"/>
<circle cx="427.6" cy="16.81" r="3.0"/>
<circle cx="433.39" cy="16.35" r="3.0"/>
<circle cx="439.18" cy="15.95" r="3.0"/>
<circle cx="444.97" cy="15.56" r="3.0"/>
<circle cx="450.75" cy="15.2" r="3.0"/>
<circle cx="456.54" cy="14.87" r="3.0"/>
</g>
</g>
<g stroke="#000" stroke-width="2.7" fill="none" stroke-dasharray="13 4.5 3 4.5">
<path d="M181 34.3H448.4"/>
<path d="M181 254.0H448.4"/>
</g>
<rect x="182.6" y="8.0" width="265.8" height="249" fill="none" stroke="#000" stroke-width="1.8"/>
<path d="M182.6 257H187.0M182.6 232.27H185.0M182.6 207.54H187.0M182.6 182.81H185.0M182.6 158.08H187.0M182.6 133.35H185.0M182.6 108.62H187.0M182.6 83.89H185.0M182.6 59.16H187.0M182.6 34.43H185.0M182.6 9.7H187.0M182.6 257.0V252.6M235.7 257.0V254.4M288.8 257.0V252.6M341.9 257.0V254.4M395 257.0V252.6M448.1 257.0V254.4" stroke="#000" stroke-width="1.6" fill="none"/>
<g font-size="17" stroke-width="1.15" text-anchor="end">
<text transform="translate(178.4 262.3) scale(1.1 1)">0.0</text>
<text transform="translate(178.4 212.84) scale(1.1 1)">0.2</text>
<text transform="translate(178.4 163.38) scale(1.1 1)">0.4</text>
<text transform="translate(178.4 113.92) scale(1.1 1)">0.6</text>
<text transform="translate(178.4 64.46) scale(1.1 1)">0.8</text>
<text transform="translate(178.4 14.2) scale(1.1 1)">1.0</text>
</g>
<g font-size="17" stroke-width="1.15" text-anchor="middle">
<text transform="translate(182.3 274.7) scale(1.06 1)">17</text>
<text transform="translate(288.5 274.7) scale(1.06 1)">18</text>
<text transform="translate(394.7 274.7) scale(1.06 1)">19</text>
</g>
<text x="300" y="304" font-size="28" stroke-width="0.95" text-anchor="middle"><tspan font-style="italic">T</tspan>(K)</text>
<text transform="translate(148.8 126) rotate(-90) scale(1 1.12)" font-size="26.3" stroke-width="0.95" text-anchor="middle">R/R(22K)</text>
<g font-size="17" stroke-width="0.95">
<text x="395.6" y="100.2">CaF<tspan font-size="10.5" font-weight="bold" stroke-width="0.3" dx="0.3" dy="6">2</tspan></text>
<text transform="translate(390.2 234.8) scale(1.065 1)">H<tspan font-style="italic">//ab</tspan></text>
</g>
<g font-size="13.2" font-weight="bold" stroke-width="0.2">
<text x="237.6" y="104">9 T</text>
<text x="380.6" y="182">0 T</text>
</g>
<path d="M376.6 172.6L262.5 104" stroke="#000" stroke-width="1.9" fill="none"/>
<path d="M260.1 102.6L267.34 104.15L264.86 108.26Z" fill="#000"/>
</svg></body></html>
